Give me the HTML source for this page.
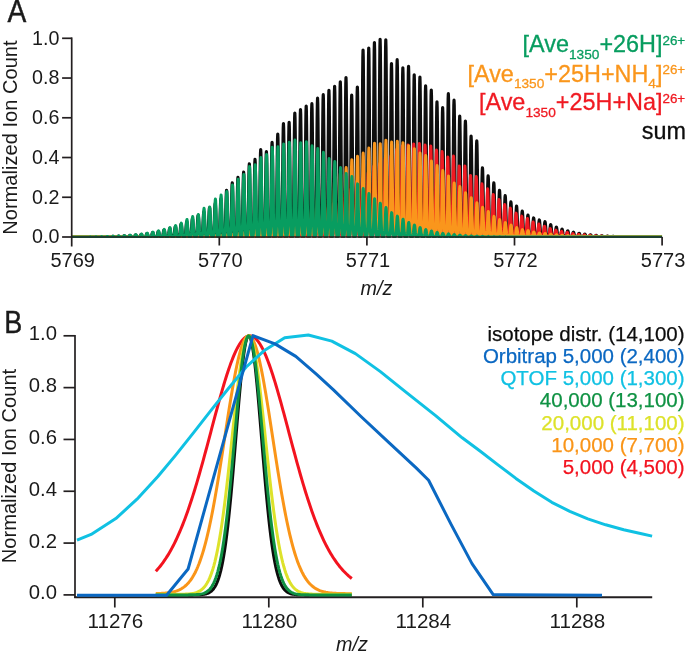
<!DOCTYPE html>
<html><head><meta charset="utf-8"><title>Figure</title>
<style>html,body{margin:0;padding:0;background:#fff;overflow:hidden}svg{display:block;filter:blur(0.3px)}svg text{font-family:"Liberation Sans",sans-serif}</style>
</head><body>
<svg width="685" height="652" viewBox="0 0 685 652">
<rect width="685" height="652" fill="#fff"/>
<defs><clipPath id="ca"><rect x="69.7" y="0" width="594.4" height="238.10"/></clipPath></defs>
<path clip-path="url(#ca)" d="M71.70 237.00 L88.12 237.00 L88.52 236.99 L88.82 236.98 L89.07 236.96 L89.32 236.93 L89.52 236.90 L89.72 236.87 L89.92 236.84 L90.12 236.82 L90.32 236.82 L90.52 236.82 L90.72 236.84 L90.92 236.87 L91.12 236.90 L91.32 236.93 L91.57 236.96 L91.82 236.98 L92.12 236.99 L92.52 237.00 L93.81 237.00 L94.21 236.99 L94.51 236.97 L94.76 236.94 L95.01 236.90 L95.21 236.86 L95.41 236.82 L95.61 236.78 L95.81 236.75 L96.01 236.74 L96.21 236.75 L96.41 236.78 L96.61 236.82 L96.81 236.86 L97.01 236.90 L97.26 236.94 L97.51 236.97 L97.81 236.99 L98.21 237.00 L99.49 237.00 L99.89 236.98 L100.19 236.96 L100.44 236.92 L100.69 236.86 L100.89 236.81 L101.09 236.75 L101.29 236.69 L101.49 236.66 L101.69 236.64 L101.89 236.66 L102.09 236.69 L102.29 236.75 L102.49 236.81 L102.69 236.86 L102.94 236.92 L103.19 236.96 L103.49 236.98 L103.89 237.00 L105.18 237.00 L105.58 236.98 L105.88 236.94 L106.13 236.89 L106.38 236.81 L106.58 236.74 L106.78 236.65 L106.98 236.58 L107.18 236.53 L107.38 236.51 L107.58 236.53 L107.78 236.58 L107.98 236.65 L108.18 236.74 L108.38 236.81 L108.63 236.89 L108.88 236.94 L109.18 236.98 L109.58 237.00 L110.87 236.99 L111.27 236.97 L111.57 236.92 L111.82 236.85 L112.07 236.74 L112.27 236.64 L112.47 236.53 L112.67 236.43 L112.87 236.36 L113.07 236.34 L113.27 236.36 L113.47 236.43 L113.67 236.53 L113.87 236.64 L114.07 236.74 L114.32 236.85 L114.57 236.92 L114.87 236.97 L115.27 236.99 L116.55 236.99 L116.95 236.96 L117.25 236.90 L117.50 236.80 L117.75 236.66 L117.95 236.51 L118.15 236.37 L118.35 236.23 L118.55 236.14 L118.75 236.10 L118.95 236.14 L119.15 236.23 L119.35 236.37 L119.55 236.51 L119.75 236.66 L120.00 236.80 L120.25 236.90 L120.55 236.96 L120.95 236.99 L122.24 236.99 L122.64 236.95 L122.94 236.86 L123.19 236.73 L123.44 236.54 L123.64 236.35 L123.84 236.15 L124.04 235.97 L124.24 235.85 L124.44 235.81 L124.64 235.85 L124.84 235.97 L125.04 236.15 L125.24 236.35 L125.44 236.54 L125.69 236.73 L125.94 236.86 L126.24 236.95 L126.64 236.99 L127.92 236.98 L128.32 236.93 L128.62 236.82 L128.87 236.65 L129.12 236.39 L129.32 236.14 L129.52 235.88 L129.72 235.64 L129.92 235.48 L130.12 235.42 L130.32 235.48 L130.52 235.64 L130.72 235.88 L130.92 236.14 L131.12 236.39 L131.37 236.65 L131.62 236.82 L131.92 236.93 L132.32 236.98 L133.61 236.98 L134.01 236.91 L134.31 236.76 L134.56 236.54 L134.81 236.20 L135.01 235.88 L135.21 235.53 L135.41 235.22 L135.61 235.01 L135.81 234.93 L136.01 235.01 L136.21 235.22 L136.41 235.53 L136.61 235.88 L136.81 236.20 L137.06 236.54 L137.31 236.76 L137.61 236.91 L138.01 236.98 L139.30 236.97 L139.70 236.88 L140.00 236.69 L140.25 236.40 L140.50 235.97 L140.70 235.54 L140.90 235.10 L141.10 234.70 L141.30 234.42 L141.50 234.32 L141.70 234.42 L141.90 234.70 L142.10 235.10 L142.30 235.54 L142.50 235.97 L142.75 236.40 L143.00 236.69 L143.30 236.88 L143.70 236.97 L144.98 236.97 L145.38 236.84 L145.68 236.60 L145.93 236.23 L146.18 235.67 L146.38 235.13 L146.58 234.55 L146.78 234.04 L146.98 233.68 L147.18 233.55 L147.38 233.68 L147.58 234.04 L147.78 234.55 L147.98 235.13 L148.18 235.67 L148.43 236.23 L148.68 236.60 L148.98 236.84 L149.38 236.97 L150.67 236.96 L151.07 236.80 L151.37 236.49 L151.62 236.01 L151.87 235.31 L152.07 234.62 L152.27 233.89 L152.47 233.23 L152.67 232.77 L152.87 232.61 L153.07 232.77 L153.27 233.23 L153.47 233.89 L153.67 234.62 L153.87 235.31 L154.12 236.01 L154.37 236.49 L154.67 236.80 L155.07 236.96 L156.35 236.95 L156.75 236.75 L157.05 236.36 L157.30 235.76 L157.55 234.87 L157.75 234.00 L157.95 233.07 L158.15 232.24 L158.35 231.67 L158.55 231.46 L158.75 231.67 L158.95 232.24 L159.15 233.07 L159.35 234.00 L159.55 234.87 L159.80 235.76 L160.05 236.36 L160.35 236.75 L160.75 236.95 L162.04 236.93 L162.44 236.69 L162.74 236.20 L162.99 235.45 L163.24 234.34 L163.44 233.25 L163.64 232.09 L163.84 231.06 L164.04 230.34 L164.24 230.08 L164.44 230.34 L164.64 231.06 L164.84 232.09 L165.04 233.25 L165.24 234.34 L165.49 235.45 L165.74 236.20 L166.04 236.69 L166.44 236.93 L167.73 236.92 L168.13 236.61 L168.43 236.00 L168.68 235.08 L168.93 233.71 L169.13 232.35 L169.33 230.93 L169.53 229.65 L169.73 228.75 L169.93 228.43 L170.13 228.75 L170.33 229.65 L170.53 230.93 L170.73 232.35 L170.93 233.71 L171.18 235.08 L171.43 236.00 L171.73 236.61 L172.13 236.92 L173.41 236.90 L173.81 236.53 L174.11 235.78 L174.36 234.64 L174.61 232.96 L174.81 231.30 L175.01 229.56 L175.21 227.99 L175.41 226.89 L175.61 226.50 L175.81 226.89 L176.01 227.99 L176.21 229.56 L176.41 231.30 L176.61 232.96 L176.86 234.64 L177.11 235.78 L177.41 236.53 L177.81 236.90 L179.10 236.88 L179.50 236.42 L179.80 235.52 L180.05 234.14 L180.30 232.10 L180.50 230.08 L180.70 227.96 L180.90 226.05 L181.10 224.72 L181.30 224.24 L181.50 224.72 L181.70 226.05 L181.90 227.96 L182.10 230.08 L182.30 232.10 L182.55 234.14 L182.80 235.52 L183.10 236.42 L183.50 236.88 L184.78 236.85 L185.18 236.31 L185.48 235.22 L185.73 233.56 L185.98 231.10 L186.18 228.68 L186.38 226.12 L186.58 223.83 L186.78 222.23 L186.98 221.65 L187.18 222.23 L187.38 223.83 L187.58 226.12 L187.78 228.68 L187.98 231.10 L188.23 233.56 L188.48 235.22 L188.78 236.31 L189.18 236.85 L190.47 236.82 L190.87 236.18 L191.17 234.87 L191.42 232.90 L191.67 229.97 L191.87 227.08 L192.07 224.04 L192.27 221.30 L192.47 219.40 L192.67 218.71 L192.87 219.40 L193.07 221.30 L193.27 224.04 L193.47 227.08 L193.67 229.97 L193.92 232.90 L194.17 234.87 L194.47 236.18 L194.87 236.82 L196.16 236.79 L196.56 236.03 L196.86 234.49 L197.11 232.16 L197.36 228.70 L197.56 225.29 L197.76 221.70 L197.96 218.47 L198.16 216.22 L198.36 215.41 L198.56 216.22 L198.76 218.47 L198.96 221.70 L199.16 225.29 L199.36 228.70 L199.61 232.16 L199.86 234.49 L200.16 236.03 L200.56 236.79 L201.84 236.75 L202.24 235.86 L202.54 234.06 L202.79 231.33 L203.04 227.30 L203.24 223.31 L203.44 219.10 L203.64 215.33 L203.84 212.70 L204.04 211.75 L204.24 212.70 L204.44 215.33 L204.64 219.10 L204.84 223.31 L205.04 227.30 L205.29 231.33 L205.54 234.06 L205.84 235.86 L206.24 236.75 L207.53 236.71 L207.93 235.68 L208.23 233.60 L208.48 230.44 L208.73 225.76 L208.93 221.14 L209.13 216.27 L209.33 211.90 L209.53 208.85 L209.73 207.75 L209.93 208.85 L210.13 211.90 L210.33 216.27 L210.53 221.14 L210.73 225.76 L210.98 230.44 L211.23 233.60 L211.53 235.68 L211.93 236.71 L213.21 236.67 L213.61 235.49 L213.91 233.10 L214.16 229.47 L214.41 224.10 L214.61 218.80 L214.81 213.21 L215.01 208.20 L215.21 204.69 L215.41 203.43 L215.61 204.69 L215.81 208.20 L216.01 213.21 L216.21 218.80 L216.41 224.10 L216.66 229.47 L216.91 233.10 L217.21 235.49 L217.61 236.67 L218.90 236.63 L219.30 235.28 L219.60 232.56 L219.85 228.44 L220.10 222.34 L220.30 216.31 L220.50 209.96 L220.70 204.26 L220.90 200.27 L221.10 198.84 L221.30 200.27 L221.50 204.26 L221.70 209.96 L221.90 216.31 L222.10 222.34 L222.35 228.44 L222.60 232.56 L222.90 235.28 L223.30 236.63 L224.59 236.54 L224.99 234.89 L225.29 231.57 L225.54 226.52 L225.79 219.06 L225.99 211.68 L226.19 203.90 L226.39 196.93 L226.59 192.05 L226.79 190.30 L226.99 192.05 L227.19 196.93 L227.39 203.90 L227.59 211.68 L227.79 219.06 L228.04 226.52 L228.29 231.57 L228.59 234.89 L228.99 236.54 L230.27 236.47 L230.67 234.56 L230.97 230.71 L231.22 224.86 L231.47 216.21 L231.67 207.67 L231.87 198.66 L232.07 190.58 L232.27 184.93 L232.47 182.90 L232.67 184.93 L232.87 190.58 L233.07 198.66 L233.27 207.67 L233.47 216.21 L233.72 224.86 L233.97 230.71 L234.27 234.56 L234.67 236.47 L235.96 236.42 L236.36 234.31 L236.66 230.07 L236.91 223.63 L237.16 214.10 L237.36 204.69 L237.56 194.76 L237.76 185.86 L237.96 179.64 L238.16 177.40 L238.36 179.64 L238.56 185.86 L238.76 194.76 L238.96 204.69 L239.16 214.10 L239.41 223.63 L239.66 230.07 L239.96 234.31 L240.36 236.42 L241.64 236.37 L242.04 234.07 L242.34 229.46 L242.59 222.44 L242.84 212.06 L243.04 201.81 L243.24 191.01 L243.44 181.31 L243.64 174.54 L243.84 172.10 L244.04 174.54 L244.24 181.31 L244.44 191.01 L244.64 201.81 L244.84 212.06 L245.09 222.44 L245.34 229.46 L245.64 234.07 L246.04 236.37 L247.33 236.29 L247.73 233.70 L248.03 228.49 L248.28 220.58 L248.53 208.87 L248.73 197.31 L248.93 185.12 L249.13 174.19 L249.33 166.55 L249.53 163.80 L249.73 166.55 L249.93 174.19 L250.13 185.12 L250.33 197.31 L250.53 208.87 L250.78 220.58 L251.03 228.49 L251.33 233.70 L251.73 236.29 L253.02 236.24 L253.42 233.50 L253.72 227.98 L253.97 219.59 L254.22 207.18 L254.42 194.93 L254.62 182.01 L254.82 170.41 L255.02 162.31 L255.22 159.40 L255.42 162.31 L255.62 170.41 L255.82 182.01 L256.02 194.93 L256.22 207.18 L256.47 219.59 L256.72 227.98 L257.02 233.50 L257.42 236.24 L258.70 236.15 L259.10 233.06 L259.40 226.85 L259.65 217.41 L259.90 203.46 L260.10 189.67 L260.30 175.13 L260.50 162.09 L260.70 152.98 L260.90 149.70 L261.10 152.98 L261.30 162.09 L261.50 175.13 L261.70 189.67 L261.90 203.46 L262.15 217.41 L262.40 226.85 L262.70 233.06 L263.10 236.15 L264.39 236.17 L264.79 233.14 L265.09 227.06 L265.34 217.82 L265.59 204.15 L265.79 190.64 L265.99 176.41 L266.19 163.63 L266.39 154.71 L266.59 151.50 L266.79 154.71 L266.99 163.63 L267.19 176.41 L267.39 190.64 L267.59 204.15 L267.84 217.82 L268.09 227.06 L268.39 233.14 L268.79 236.17 L270.07 236.08 L270.47 232.73 L270.77 226.00 L271.02 215.78 L271.27 200.65 L271.47 185.71 L271.67 169.96 L271.87 155.82 L272.07 145.95 L272.27 142.40 L272.47 145.95 L272.67 155.82 L272.87 169.96 L273.07 185.71 L273.27 200.65 L273.52 215.78 L273.77 226.00 L274.07 232.73 L274.47 236.08 L275.76 236.00 L276.16 232.36 L276.46 225.05 L276.71 213.94 L276.96 197.50 L277.16 181.26 L277.36 164.15 L277.56 148.79 L277.76 138.06 L277.96 134.20 L278.16 138.06 L278.36 148.79 L278.56 164.15 L278.76 181.26 L278.96 197.50 L279.21 213.94 L279.46 225.05 L279.76 232.36 L280.16 236.00 L281.45 235.89 L281.85 231.88 L282.15 223.81 L282.40 211.54 L282.65 193.39 L282.85 175.46 L283.05 156.56 L283.25 139.61 L283.45 127.76 L283.65 123.50 L283.85 127.76 L284.05 139.61 L284.25 156.56 L284.45 175.46 L284.65 193.39 L284.90 211.54 L285.15 223.81 L285.45 231.88 L285.85 235.89 L287.13 235.88 L287.53 231.83 L287.83 223.67 L288.08 211.27 L288.33 192.93 L288.53 174.81 L288.73 155.71 L288.93 138.58 L289.13 126.61 L289.33 122.30 L289.53 126.61 L289.73 138.58 L289.93 155.71 L290.13 174.81 L290.33 192.93 L290.58 211.27 L290.83 223.67 L291.13 231.83 L291.53 235.88 L292.82 235.79 L293.22 231.41 L293.52 222.60 L293.77 209.20 L294.02 189.39 L294.22 169.82 L294.42 149.19 L294.62 130.68 L294.82 117.75 L295.02 113.10 L295.22 117.75 L295.42 130.68 L295.62 149.19 L295.82 169.82 L296.02 189.39 L296.27 209.20 L296.52 222.60 L296.82 231.41 L297.22 235.79 L298.50 235.76 L298.90 231.26 L299.20 222.19 L299.45 208.42 L299.70 188.05 L299.90 167.93 L300.10 146.71 L300.30 127.68 L300.50 114.38 L300.70 109.60 L300.90 114.38 L301.10 127.68 L301.30 146.71 L301.50 167.93 L301.70 188.05 L301.95 208.42 L302.20 222.19 L302.50 231.26 L302.90 235.76 L304.19 235.72 L304.59 231.10 L304.89 221.79 L305.14 207.63 L305.39 186.70 L305.59 166.03 L305.79 144.23 L305.99 124.68 L306.19 111.01 L306.39 106.10 L306.59 111.01 L306.79 124.68 L306.99 144.23 L307.19 166.03 L307.39 186.70 L307.64 207.63 L307.89 221.79 L308.19 231.10 L308.59 235.72 L309.88 235.70 L310.28 230.99 L310.58 221.51 L310.83 207.09 L311.08 185.78 L311.28 164.73 L311.48 142.53 L311.68 122.62 L311.88 108.70 L312.08 103.70 L312.28 108.70 L312.48 122.62 L312.68 142.53 L312.88 164.73 L313.08 185.78 L313.33 207.09 L313.58 221.51 L313.88 230.99 L314.28 235.70 L315.56 235.65 L315.96 230.74 L316.26 220.87 L316.51 205.86 L316.76 183.67 L316.96 161.75 L317.16 138.63 L317.36 117.90 L317.56 103.41 L317.76 98.20 L317.96 103.41 L318.16 117.90 L318.36 138.63 L318.56 161.75 L318.76 183.67 L319.01 205.86 L319.26 220.87 L319.56 230.74 L319.96 235.65 L321.25 235.61 L321.65 230.58 L321.95 220.46 L322.20 205.08 L322.45 182.32 L322.65 159.85 L322.85 136.15 L323.05 114.89 L323.25 100.04 L323.45 94.70 L323.65 100.04 L323.85 114.89 L324.05 136.15 L324.25 159.85 L324.45 182.32 L324.70 205.08 L324.95 220.46 L325.25 230.58 L325.65 235.61 L326.93 235.57 L327.33 230.39 L327.63 219.95 L327.88 204.09 L328.13 180.63 L328.33 157.46 L328.53 133.04 L328.73 111.12 L328.93 95.81 L329.13 90.30 L329.33 95.81 L329.53 111.12 L329.73 133.04 L329.93 157.46 L330.13 180.63 L330.38 204.09 L330.63 219.95 L330.93 230.39 L331.33 235.57 L332.62 235.53 L333.02 230.21 L333.32 219.48 L333.57 203.19 L333.82 179.10 L334.02 155.29 L334.22 130.20 L334.42 107.69 L334.62 91.96 L334.82 86.30 L335.02 91.96 L335.22 107.69 L335.42 130.20 L335.62 155.29 L335.82 179.10 L336.07 203.19 L336.32 219.48 L336.62 230.21 L337.02 235.53 L338.31 235.49 L338.71 230.00 L339.01 218.96 L339.26 202.18 L339.51 177.37 L339.71 152.85 L339.91 127.01 L340.11 103.82 L340.31 87.63 L340.51 81.80 L340.71 87.63 L340.91 103.82 L341.11 127.01 L341.31 152.85 L341.51 177.37 L341.76 202.18 L342.01 218.96 L342.31 230.00 L342.71 235.49 L343.99 235.44 L344.39 229.81 L344.69 218.47 L344.94 201.24 L345.19 175.75 L345.39 150.58 L345.59 124.04 L345.79 100.22 L345.99 83.58 L346.19 77.60 L346.39 83.58 L346.59 100.22 L346.79 124.04 L346.99 150.58 L347.19 175.75 L347.44 201.24 L347.69 218.47 L347.99 229.81 L348.39 235.44 L349.68 235.62 L350.08 230.61 L350.38 220.52 L350.63 205.19 L350.88 182.52 L351.08 160.12 L351.28 136.51 L351.48 115.32 L351.68 100.52 L351.88 95.20 L352.08 100.52 L352.28 115.32 L352.48 136.51 L352.68 160.12 L352.88 182.52 L353.13 205.19 L353.38 220.52 L353.68 230.61 L354.08 235.62 L355.36 235.54 L355.76 230.24 L356.06 219.57 L356.31 203.35 L356.56 179.37 L356.76 155.67 L356.96 130.70 L357.16 108.29 L357.36 92.63 L357.56 87.00 L357.76 92.63 L357.96 108.29 L358.16 130.70 L358.36 155.67 L358.56 179.37 L358.81 203.35 L359.06 219.57 L359.36 230.24 L359.76 235.54 L361.05 235.18 L361.45 228.57 L361.75 215.28 L362.00 195.07 L362.25 165.19 L362.45 135.67 L362.65 104.55 L362.85 76.62 L363.05 57.12 L363.25 50.10 L363.45 57.12 L363.65 76.62 L363.85 104.55 L364.05 135.67 L364.25 165.19 L364.50 195.07 L364.75 215.28 L365.05 228.57 L365.45 235.18 L366.74 235.16 L367.14 228.48 L367.44 215.04 L367.69 194.62 L367.94 164.42 L368.14 134.58 L368.34 103.13 L368.54 74.91 L368.74 55.19 L368.94 48.10 L369.14 55.19 L369.34 74.91 L369.54 103.13 L369.74 134.58 L369.94 164.42 L370.19 194.62 L370.44 215.04 L370.74 228.48 L371.14 235.16 L372.42 235.10 L372.82 228.23 L373.12 214.40 L373.37 193.39 L373.62 162.31 L373.82 131.60 L374.02 99.23 L374.22 70.19 L374.42 49.90 L374.62 42.60 L374.82 49.90 L375.02 70.19 L375.22 99.23 L375.42 131.60 L375.62 162.31 L375.87 193.39 L376.12 214.40 L376.42 228.23 L376.82 235.10 L378.11 235.07 L378.51 228.09 L378.81 214.03 L379.06 192.67 L379.31 161.08 L379.51 129.87 L379.71 96.96 L379.91 67.44 L380.11 46.82 L380.31 39.40 L380.51 46.82 L380.71 67.44 L380.91 96.96 L381.11 129.87 L381.31 161.08 L381.56 192.67 L381.81 214.03 L382.11 228.09 L382.51 235.07 L383.79 235.08 L384.19 228.11 L384.49 214.09 L384.74 192.78 L384.99 161.27 L385.19 130.14 L385.39 97.32 L385.59 67.87 L385.79 47.30 L385.99 39.90 L386.19 47.30 L386.39 67.87 L386.59 97.32 L386.79 130.14 L386.99 161.27 L387.24 192.78 L387.49 214.09 L387.79 228.11 L388.19 235.08 L389.48 235.31 L389.88 229.18 L390.18 216.83 L390.43 198.08 L390.68 170.34 L390.88 142.93 L391.08 114.04 L391.28 88.12 L391.48 70.01 L391.68 63.50 L391.88 70.01 L392.08 88.12 L392.28 114.04 L392.48 142.93 L392.68 170.34 L392.93 198.08 L393.18 216.83 L393.48 229.18 L393.88 235.31 L395.17 235.27 L395.57 229.01 L395.87 216.39 L396.12 197.22 L396.37 168.88 L396.57 140.87 L396.77 111.35 L396.97 84.86 L397.17 66.36 L397.37 59.70 L397.57 66.36 L397.77 84.86 L397.97 111.35 L398.17 140.87 L398.37 168.88 L398.62 197.22 L398.87 216.39 L399.17 229.01 L399.57 235.27 L400.85 235.35 L401.25 229.38 L401.55 217.35 L401.80 199.06 L402.05 172.03 L402.25 145.32 L402.45 117.16 L402.65 91.90 L402.85 74.25 L403.05 67.90 L403.25 74.25 L403.45 91.90 L403.65 117.16 L403.85 145.32 L404.05 172.03 L404.30 199.06 L404.55 217.35 L404.85 229.38 L405.25 235.35 L406.54 235.34 L406.94 229.31 L407.24 217.17 L407.49 198.73 L407.74 171.45 L407.94 144.51 L408.14 116.10 L408.34 90.61 L408.54 72.80 L408.74 66.40 L408.94 72.80 L409.14 90.61 L409.34 116.10 L409.54 144.51 L409.74 171.45 L409.99 198.73 L410.24 217.17 L410.54 229.31 L410.94 235.34 L412.22 235.42 L412.62 229.69 L412.92 218.16 L413.17 200.63 L413.42 174.72 L413.62 149.11 L413.82 122.12 L414.02 97.90 L414.22 80.98 L414.42 74.90 L414.62 80.98 L414.82 97.90 L415.02 122.12 L415.22 149.11 L415.42 174.72 L415.67 200.63 L415.92 218.16 L416.22 229.69 L416.62 235.42 L417.91 235.44 L418.31 229.79 L418.61 218.41 L418.86 201.13 L419.11 175.56 L419.31 150.31 L419.51 123.68 L419.71 99.79 L419.91 83.10 L420.11 77.10 L420.31 83.10 L420.51 99.79 L420.71 123.68 L420.91 150.31 L421.11 175.56 L421.36 201.13 L421.61 218.41 L421.91 229.79 L422.31 235.44 L423.60 235.52 L424.00 230.18 L424.30 219.43 L424.55 203.08 L424.80 178.90 L425.00 155.02 L425.20 129.85 L425.40 107.26 L425.60 91.48 L425.80 85.80 L426.00 91.48 L426.20 107.26 L426.40 129.85 L426.60 155.02 L426.80 178.90 L427.05 203.08 L427.30 219.43 L427.60 230.18 L428.00 235.52 L429.28 235.57 L429.68 230.37 L429.98 219.91 L430.23 204.02 L430.48 180.52 L430.68 157.30 L430.88 132.82 L431.08 110.86 L431.28 95.52 L431.48 90.00 L431.68 95.52 L431.88 110.86 L432.08 132.82 L432.28 157.30 L432.48 180.52 L432.73 204.02 L432.98 219.91 L433.28 230.37 L433.68 235.57 L434.97 235.68 L435.37 230.91 L435.67 221.30 L435.92 206.69 L436.17 185.09 L436.37 163.75 L436.57 141.26 L436.77 121.07 L436.97 106.97 L437.17 101.90 L437.37 106.97 L437.57 121.07 L437.77 141.26 L437.97 163.75 L438.17 185.09 L438.42 206.69 L438.67 221.30 L438.97 230.91 L439.37 235.68 L440.65 235.74 L441.05 231.17 L441.35 221.96 L441.60 207.97 L441.85 187.28 L442.05 166.84 L442.25 145.30 L442.45 125.96 L442.65 112.46 L442.85 107.60 L443.05 112.46 L443.25 125.96 L443.45 145.30 L443.65 166.84 L443.85 187.28 L444.10 207.97 L444.35 221.96 L444.65 231.17 L445.05 235.74 L446.34 235.60 L446.74 230.54 L447.04 220.34 L447.29 204.85 L447.54 181.94 L447.74 159.31 L447.94 135.45 L448.14 114.04 L448.34 99.08 L448.54 93.70 L448.74 99.08 L448.94 114.04 L449.14 135.45 L449.34 159.31 L449.54 181.94 L449.79 204.85 L450.04 220.34 L450.34 230.54 L450.74 235.60 L452.03 235.66 L452.43 230.83 L452.73 221.10 L452.98 206.31 L453.23 184.44 L453.43 162.83 L453.63 140.05 L453.83 119.61 L454.03 105.34 L454.23 100.20 L454.43 105.34 L454.63 119.61 L454.83 140.05 L455.03 162.83 L455.23 184.44 L455.48 206.31 L455.73 221.10 L456.03 230.83 L456.43 235.66 L457.71 235.82 L458.11 231.55 L458.41 222.95 L458.66 209.88 L458.91 190.55 L459.11 171.45 L459.31 151.32 L459.51 133.26 L459.71 120.64 L459.91 116.10 L460.11 120.64 L460.31 133.26 L460.51 151.32 L460.71 171.45 L460.91 190.55 L461.16 209.88 L461.41 222.95 L461.71 231.55 L462.11 235.82 L463.40 235.87 L463.80 231.77 L464.10 223.52 L464.35 210.98 L464.60 192.43 L464.80 174.11 L465.00 154.79 L465.20 137.46 L465.40 125.35 L465.60 121.00 L465.80 125.35 L466.00 137.46 L466.20 154.79 L466.40 174.11 L466.60 192.43 L466.85 210.98 L467.10 223.52 L467.40 231.77 L467.80 235.87 L469.08 236.02 L469.48 232.46 L469.78 225.28 L470.03 214.39 L470.28 198.27 L470.48 182.35 L470.68 165.56 L470.88 150.50 L471.08 139.98 L471.28 136.20 L471.48 139.98 L471.68 150.50 L471.88 165.56 L472.08 182.35 L472.28 198.27 L472.53 214.39 L472.78 225.28 L473.08 232.46 L473.48 236.02 L474.77 236.06 L475.17 232.67 L475.47 225.83 L475.72 215.44 L475.97 200.08 L476.17 184.90 L476.37 168.90 L476.57 154.54 L476.77 144.51 L476.97 140.90 L477.17 144.51 L477.37 154.54 L477.57 168.90 L477.77 184.90 L477.97 200.08 L478.22 215.44 L478.47 225.83 L478.77 232.67 L479.17 236.06 L480.46 236.33 L480.86 233.88 L481.16 228.97 L481.41 221.50 L481.66 210.45 L481.86 199.54 L482.06 188.03 L482.26 177.71 L482.46 170.49 L482.66 167.90 L482.86 170.49 L483.06 177.71 L483.26 188.03 L483.46 199.54 L483.66 210.45 L483.91 221.50 L484.16 228.97 L484.46 233.88 L484.86 236.33 L486.14 236.40 L486.54 234.25 L486.84 229.90 L487.09 223.29 L487.34 213.52 L487.54 203.87 L487.74 193.70 L487.94 184.57 L488.14 178.19 L488.34 175.90 L488.54 178.19 L488.74 184.57 L488.94 193.70 L489.14 203.87 L489.34 213.52 L489.59 223.29 L489.84 229.90 L490.14 234.25 L490.54 236.40 L491.83 236.47 L492.23 234.56 L492.53 230.70 L492.78 224.84 L493.03 216.17 L493.23 207.61 L493.43 198.59 L493.63 190.49 L493.83 184.83 L494.03 182.80 L494.23 184.83 L494.43 190.49 L494.63 198.59 L494.83 207.61 L495.03 216.17 L495.28 224.84 L495.53 230.70 L495.83 234.56 L496.23 236.47 L497.51 236.54 L497.91 234.89 L498.21 231.57 L498.46 226.52 L498.71 219.06 L498.91 211.68 L499.11 203.90 L499.31 196.93 L499.51 192.05 L499.71 190.30 L499.91 192.05 L500.11 196.93 L500.31 203.90 L500.51 211.68 L500.71 219.06 L500.96 226.52 L501.21 231.57 L501.51 234.89 L501.91 236.54 L503.20 236.60 L503.60 235.14 L503.90 232.20 L504.15 227.73 L504.40 221.13 L504.60 214.61 L504.80 207.73 L505.00 201.56 L505.20 197.25 L505.40 195.70 L505.60 197.25 L505.80 201.56 L506.00 207.73 L506.20 214.61 L506.40 221.13 L506.65 227.73 L506.90 232.20 L507.20 235.14 L507.60 236.60 L508.89 236.66 L509.29 235.42 L509.59 232.92 L509.84 229.13 L510.09 223.51 L510.29 217.97 L510.49 212.13 L510.69 206.88 L510.89 203.22 L511.09 201.90 L511.29 203.22 L511.49 206.88 L511.69 212.13 L511.89 217.97 L512.09 223.51 L512.34 229.13 L512.59 232.92 L512.89 235.42 L513.29 236.66 L514.57 236.70 L514.97 235.61 L515.27 233.41 L515.52 230.07 L515.77 225.13 L515.97 220.25 L516.17 215.10 L516.37 210.48 L516.57 207.26 L516.77 206.10 L516.97 207.26 L517.17 210.48 L517.37 215.10 L517.57 220.25 L517.77 225.13 L518.02 230.07 L518.27 233.41 L518.57 235.61 L518.97 236.70 L520.26 236.75 L520.66 235.83 L520.96 233.99 L521.21 231.19 L521.46 227.05 L521.66 222.96 L521.86 218.65 L522.06 214.78 L522.26 212.07 L522.46 211.10 L522.66 212.07 L522.86 214.78 L523.06 218.65 L523.26 222.96 L523.46 227.05 L523.71 231.19 L523.96 233.99 L524.26 235.83 L524.66 236.75 L525.94 236.79 L526.34 236.01 L526.64 234.45 L526.89 232.09 L527.14 228.59 L527.34 225.13 L527.54 221.48 L527.74 218.21 L527.94 215.92 L528.14 215.10 L528.34 215.92 L528.54 218.21 L528.74 221.48 L528.94 225.13 L529.14 228.59 L529.39 232.09 L529.64 234.45 L529.94 236.01 L530.34 236.79 L531.63 236.81 L532.03 236.14 L532.33 234.79 L532.58 232.74 L532.83 229.70 L533.03 226.70 L533.23 223.54 L533.43 220.70 L533.63 218.71 L533.83 218.00 L534.03 218.71 L534.23 220.70 L534.43 223.54 L534.63 226.70 L534.83 229.70 L535.08 232.74 L535.33 234.79 L535.63 236.14 L536.03 236.81 L537.32 236.83 L537.72 236.23 L538.02 235.02 L538.27 233.19 L538.52 230.47 L538.72 227.78 L538.92 224.95 L539.12 222.41 L539.32 220.64 L539.52 220.00 L539.72 220.64 L539.92 222.41 L540.12 224.95 L540.32 227.78 L540.52 230.47 L540.77 233.19 L541.02 235.02 L541.32 236.23 L541.72 236.83 L543.00 236.85 L543.40 236.31 L543.70 235.22 L543.95 233.56 L544.20 231.10 L544.40 228.68 L544.60 226.13 L544.80 223.83 L545.00 222.23 L545.20 221.66 L545.40 222.23 L545.60 223.83 L545.80 226.13 L546.00 228.68 L546.20 231.10 L546.45 233.56 L546.70 235.22 L547.00 236.31 L547.40 236.85 L548.69 236.88 L549.09 236.44 L549.39 235.56 L549.64 234.22 L549.89 232.24 L550.09 230.29 L550.29 228.23 L550.49 226.38 L550.69 225.09 L550.89 224.62 L551.09 225.09 L551.29 226.38 L551.49 228.23 L551.69 230.29 L551.89 232.24 L552.14 234.22 L552.39 235.56 L552.69 236.44 L553.09 236.88 L554.37 236.90 L554.77 236.55 L555.07 235.85 L555.32 234.78 L555.57 233.20 L555.77 231.63 L555.97 229.98 L556.17 228.50 L556.37 227.47 L556.57 227.10 L556.77 227.47 L556.97 228.50 L557.17 229.98 L557.37 231.63 L557.57 233.20 L557.82 234.78 L558.07 235.85 L558.37 236.55 L558.77 236.90 L560.06 236.92 L560.46 236.65 L560.76 236.09 L561.01 235.24 L561.26 233.98 L561.46 232.74 L561.66 231.43 L561.86 230.26 L562.06 229.44 L562.26 229.15 L562.46 229.44 L562.66 230.26 L562.86 231.43 L563.06 232.74 L563.26 233.98 L563.51 235.24 L563.76 236.09 L564.06 236.65 L564.46 236.92 L565.75 236.94 L566.15 236.72 L566.45 236.28 L566.70 235.61 L566.95 234.63 L567.15 233.65 L567.35 232.62 L567.55 231.70 L567.75 231.06 L567.95 230.82 L568.15 231.06 L568.35 231.70 L568.55 232.62 L568.75 233.65 L568.95 234.63 L569.20 235.61 L569.45 236.28 L569.75 236.72 L570.15 236.94 L571.43 236.95 L571.83 236.78 L572.13 236.44 L572.38 235.92 L572.63 235.15 L572.83 234.39 L573.03 233.59 L573.23 232.87 L573.43 232.37 L573.63 232.19 L573.83 232.37 L574.03 232.87 L574.23 233.59 L574.43 234.39 L574.63 235.15 L574.88 235.92 L575.13 236.44 L575.43 236.78 L575.83 236.95 L577.12 236.96 L577.52 236.83 L577.82 236.57 L578.07 236.16 L578.32 235.57 L578.52 234.98 L578.72 234.36 L578.92 233.81 L579.12 233.42 L579.32 233.28 L579.52 233.42 L579.72 233.81 L579.92 234.36 L580.12 234.98 L580.32 235.57 L580.57 236.16 L580.82 236.57 L581.12 236.83 L581.52 236.96 L582.80 236.97 L583.20 236.87 L583.50 236.67 L583.75 236.36 L584.00 235.90 L584.20 235.45 L584.40 234.98 L584.60 234.55 L584.80 234.25 L585.00 234.15 L585.20 234.25 L585.40 234.55 L585.60 234.98 L585.80 235.45 L586.00 235.90 L586.25 236.36 L586.50 236.67 L586.80 236.87 L587.20 236.97 L588.49 236.98 L588.89 236.90 L589.19 236.75 L589.44 236.51 L589.69 236.17 L589.89 235.82 L590.09 235.46 L590.29 235.14 L590.49 234.91 L590.69 234.83 L590.89 234.91 L591.09 235.14 L591.29 235.46 L591.49 235.82 L591.69 236.17 L591.94 236.51 L592.19 236.75 L592.49 236.90 L592.89 236.98 L594.18 236.98 L594.58 236.93 L594.88 236.81 L595.13 236.63 L595.38 236.37 L595.58 236.11 L595.78 235.84 L595.98 235.60 L596.18 235.43 L596.38 235.37 L596.58 235.43 L596.78 235.60 L596.98 235.84 L597.18 236.11 L597.38 236.37 L597.63 236.63 L597.88 236.81 L598.18 236.93 L598.58 236.98 L599.86 236.99 L600.26 236.94 L600.56 236.86 L600.81 236.73 L601.06 236.53 L601.26 236.34 L601.46 236.14 L601.66 235.95 L601.86 235.83 L602.06 235.78 L602.26 235.83 L602.46 235.95 L602.66 236.14 L602.86 236.34 L603.06 236.53 L603.31 236.73 L603.56 236.86 L603.86 236.94 L604.26 236.99 L605.55 236.99 L605.95 236.96 L606.25 236.89 L606.50 236.80 L606.75 236.65 L606.95 236.51 L607.15 236.36 L607.35 236.22 L607.55 236.13 L607.75 236.10 L607.95 236.13 L608.15 236.22 L608.35 236.36 L608.55 236.51 L608.75 236.65 L609.00 236.80 L609.25 236.89 L609.55 236.96 L609.95 236.99 L611.23 236.99 L611.63 236.97 L611.93 236.92 L612.18 236.85 L612.43 236.75 L612.63 236.64 L612.83 236.53 L613.03 236.43 L613.23 236.36 L613.43 236.34 L613.63 236.36 L613.83 236.43 L614.03 236.53 L614.23 236.64 L614.43 236.75 L614.68 236.85 L614.93 236.92 L615.23 236.97 L615.63 236.99 L616.92 237.00 L617.32 236.98 L617.62 236.94 L617.87 236.89 L618.12 236.81 L618.32 236.74 L618.52 236.66 L618.72 236.59 L618.92 236.54 L619.12 236.52 L619.32 236.54 L619.52 236.59 L619.72 236.66 L619.92 236.74 L620.12 236.81 L620.37 236.89 L620.62 236.94 L620.92 236.98 L621.32 237.00 L622.61 237.00 L623.01 236.98 L623.31 236.96 L623.56 236.92 L623.81 236.87 L624.01 236.81 L624.21 236.75 L624.41 236.70 L624.61 236.66 L624.81 236.65 L625.01 236.66 L625.21 236.70 L625.41 236.75 L625.61 236.81 L625.81 236.87 L626.06 236.92 L626.31 236.96 L626.61 236.98 L627.01 237.00 L628.29 237.00 L628.69 236.99 L628.99 236.97 L629.24 236.94 L629.49 236.90 L629.69 236.86 L629.89 236.82 L630.09 236.79 L630.29 236.76 L630.49 236.75 L630.69 236.76 L630.89 236.79 L631.09 236.82 L631.29 236.86 L631.49 236.90 L631.74 236.94 L631.99 236.97 L632.29 236.99 L632.69 237.00 L633.98 237.00 L634.38 236.99 L634.68 236.98 L634.93 236.96 L635.18 236.93 L635.38 236.90 L635.58 236.87 L635.78 236.85 L635.98 236.83 L636.18 236.82 L636.38 236.83 L636.58 236.85 L636.78 236.87 L636.98 236.90 L637.18 236.93 L637.43 236.96 L637.68 236.98 L637.98 236.99 L638.38 237.00 L662.10 237.00" transform="translate(-0.20 0.0)" fill="none" stroke="#0d0d0d" stroke-width="3.2" stroke-linejoin="round" stroke-linecap="butt"/>
<path clip-path="url(#ca)" d="M71.70 237.00 L207.53 237.00 L207.93 236.99 L208.23 236.98 L208.48 236.96 L208.73 236.92 L208.93 236.89 L209.13 236.86 L209.33 236.83 L209.53 236.81 L209.73 236.80 L209.93 236.81 L210.13 236.83 L210.33 236.86 L210.53 236.89 L210.73 236.92 L210.98 236.96 L211.23 236.98 L211.53 236.99 L211.93 237.00 L213.21 237.00 L213.61 236.99 L213.91 236.97 L214.16 236.94 L214.41 236.90 L214.61 236.85 L214.81 236.81 L215.01 236.77 L215.21 236.74 L215.41 236.73 L215.61 236.74 L215.81 236.77 L216.01 236.81 L216.21 236.85 L216.41 236.90 L216.66 236.94 L216.91 236.97 L217.21 236.99 L217.61 237.00 L218.90 237.00 L219.30 236.98 L219.60 236.96 L219.85 236.92 L220.10 236.86 L220.30 236.80 L220.50 236.73 L220.70 236.68 L220.90 236.64 L221.10 236.62 L221.30 236.64 L221.50 236.68 L221.70 236.73 L221.90 236.80 L222.10 236.86 L222.35 236.92 L222.60 236.96 L222.90 236.98 L223.30 237.00 L224.59 236.99 L224.99 236.98 L225.29 236.94 L225.54 236.88 L225.79 236.80 L225.99 236.71 L226.19 236.63 L226.39 236.55 L226.59 236.49 L226.79 236.47 L226.99 236.49 L227.19 236.55 L227.39 236.63 L227.59 236.71 L227.79 236.80 L228.04 236.88 L228.29 236.94 L228.59 236.98 L228.99 236.99 L230.27 236.99 L230.67 236.97 L230.97 236.92 L231.22 236.85 L231.47 236.74 L231.67 236.63 L231.87 236.51 L232.07 236.41 L232.27 236.34 L232.47 236.31 L232.67 236.34 L232.87 236.41 L233.07 236.51 L233.27 236.63 L233.47 236.74 L233.72 236.85 L233.97 236.92 L234.27 236.97 L234.67 236.99 L235.96 236.99 L236.36 236.96 L236.66 236.89 L236.91 236.79 L237.16 236.64 L237.36 236.49 L237.56 236.33 L237.76 236.19 L237.96 236.09 L238.16 236.06 L238.36 236.09 L238.56 236.19 L238.76 236.33 L238.96 236.49 L239.16 236.64 L239.41 236.79 L239.66 236.89 L239.96 236.96 L240.36 236.99 L241.64 236.99 L242.04 236.94 L242.34 236.85 L242.59 236.72 L242.84 236.52 L243.04 236.32 L243.24 236.11 L243.44 235.92 L243.64 235.79 L243.84 235.74 L244.04 235.79 L244.24 235.92 L244.44 236.11 L244.64 236.32 L244.84 236.52 L245.09 236.72 L245.34 236.85 L245.64 236.94 L246.04 236.99 L247.33 236.98 L247.73 236.93 L248.03 236.81 L248.28 236.64 L248.53 236.38 L248.73 236.12 L248.93 235.85 L249.13 235.60 L249.33 235.44 L249.53 235.37 L249.73 235.44 L249.93 235.60 L250.13 235.85 L250.33 236.12 L250.53 236.38 L250.78 236.64 L251.03 236.81 L251.33 236.93 L251.73 236.98 L253.02 236.98 L253.42 236.90 L253.72 236.75 L253.97 236.52 L254.22 236.18 L254.42 235.84 L254.62 235.48 L254.82 235.16 L255.02 234.94 L255.22 234.86 L255.42 234.94 L255.62 235.16 L255.82 235.48 L256.02 235.84 L256.22 236.18 L256.47 236.52 L256.72 236.75 L257.02 236.90 L257.42 236.98 L258.70 236.97 L259.10 236.88 L259.40 236.69 L259.65 236.40 L259.90 235.97 L260.10 235.54 L260.30 235.10 L260.50 234.70 L260.70 234.41 L260.90 234.31 L261.10 234.41 L261.30 234.70 L261.50 235.10 L261.70 235.54 L261.90 235.97 L262.15 236.40 L262.40 236.69 L262.70 236.88 L263.10 236.97 L264.39 236.97 L264.79 236.84 L265.09 236.60 L265.34 236.23 L265.59 235.68 L265.79 235.14 L265.99 234.56 L266.19 234.05 L266.39 233.69 L266.59 233.56 L266.79 233.69 L266.99 234.05 L267.19 234.56 L267.39 235.14 L267.59 235.68 L267.84 236.23 L268.09 236.60 L268.39 236.84 L268.79 236.97 L270.07 236.96 L270.47 236.80 L270.77 236.49 L271.02 236.01 L271.27 235.31 L271.47 234.61 L271.67 233.88 L271.87 233.22 L272.07 232.76 L272.27 232.60 L272.47 232.76 L272.67 233.22 L272.87 233.88 L273.07 234.61 L273.27 235.31 L273.52 236.01 L273.77 236.49 L274.07 236.80 L274.47 236.96 L275.76 236.94 L276.16 236.74 L276.46 236.34 L276.71 235.72 L276.96 234.81 L277.16 233.91 L277.36 232.97 L277.56 232.11 L277.76 231.52 L277.96 231.31 L278.16 231.52 L278.36 232.11 L278.56 232.97 L278.76 233.91 L278.96 234.81 L279.21 235.72 L279.46 236.34 L279.76 236.74 L280.16 236.94 L281.45 236.93 L281.85 236.68 L282.15 236.19 L282.40 235.43 L282.65 234.31 L282.85 233.21 L283.05 232.05 L283.25 231.00 L283.45 230.27 L283.65 230.01 L283.85 230.27 L284.05 231.00 L284.25 232.05 L284.45 233.21 L284.65 234.31 L284.90 235.43 L285.15 236.19 L285.45 236.68 L285.85 236.93 L287.13 236.92 L287.53 236.61 L287.83 236.00 L288.08 235.08 L288.33 233.71 L288.53 232.35 L288.73 230.93 L288.93 229.65 L289.13 228.75 L289.33 228.43 L289.53 228.75 L289.73 229.65 L289.93 230.93 L290.13 232.35 L290.33 233.71 L290.58 235.08 L290.83 236.00 L291.13 236.61 L291.53 236.92 L292.82 236.90 L293.22 236.52 L293.52 235.76 L293.77 234.61 L294.02 232.90 L294.22 231.22 L294.42 229.44 L294.62 227.85 L294.82 226.74 L295.02 226.34 L295.22 226.74 L295.42 227.85 L295.62 229.44 L295.82 231.22 L296.02 232.90 L296.27 234.61 L296.52 235.76 L296.82 236.52 L297.22 236.90 L298.50 236.87 L298.90 236.42 L299.20 235.51 L299.45 234.12 L299.70 232.07 L299.90 230.04 L300.10 227.91 L300.30 225.99 L300.50 224.65 L300.70 224.17 L300.90 224.65 L301.10 225.99 L301.30 227.91 L301.50 230.04 L301.70 232.07 L301.95 234.12 L302.20 235.51 L302.50 236.42 L302.90 236.87 L304.19 236.85 L304.59 236.31 L304.89 235.22 L305.14 233.57 L305.39 231.13 L305.59 228.71 L305.79 226.17 L305.99 223.89 L306.19 222.29 L306.39 221.72 L306.59 222.29 L306.79 223.89 L306.99 226.17 L307.19 228.71 L307.39 231.13 L307.64 233.57 L307.89 235.22 L308.19 236.31 L308.59 236.85 L309.88 236.82 L310.28 236.15 L310.58 234.82 L310.83 232.79 L311.08 229.79 L311.28 226.83 L311.48 223.71 L311.68 220.91 L311.88 218.95 L312.08 218.25 L312.28 218.95 L312.48 220.91 L312.68 223.71 L312.88 226.83 L313.08 229.79 L313.33 232.79 L313.58 234.82 L313.88 236.15 L314.28 236.82 L315.56 236.79 L315.96 236.01 L316.26 234.44 L316.51 232.06 L316.76 228.54 L316.96 225.06 L317.16 221.40 L317.36 218.11 L317.56 215.81 L317.76 214.98 L317.96 215.81 L318.16 218.11 L318.36 221.40 L318.56 225.06 L318.76 228.54 L319.01 232.06 L319.26 234.44 L319.56 236.01 L319.96 236.79 L321.25 236.76 L321.65 235.87 L321.95 234.09 L322.20 231.38 L322.45 227.37 L322.65 223.41 L322.85 219.23 L323.05 215.49 L323.25 212.87 L323.45 211.93 L323.65 212.87 L323.85 215.49 L324.05 219.23 L324.25 223.41 L324.45 227.37 L324.70 231.38 L324.95 234.09 L325.25 235.87 L325.65 236.76 L326.93 236.71 L327.33 235.66 L327.63 233.55 L327.88 230.35 L328.13 225.60 L328.33 220.92 L328.53 215.98 L328.73 211.55 L328.93 208.45 L329.13 207.34 L329.33 208.45 L329.53 211.55 L329.73 215.98 L329.93 220.92 L330.13 225.60 L330.38 230.35 L330.63 233.55 L330.93 235.66 L331.33 236.71 L332.62 236.67 L333.02 235.47 L333.32 233.05 L333.57 229.37 L333.82 223.94 L334.02 218.57 L334.22 212.91 L334.42 207.83 L334.62 204.29 L334.82 203.01 L335.02 204.29 L335.22 207.83 L335.42 212.91 L335.62 218.57 L335.82 223.94 L336.07 229.37 L336.32 233.05 L336.62 235.47 L337.02 236.67 L338.31 236.61 L338.71 235.22 L339.01 232.41 L339.26 228.13 L339.51 221.81 L339.71 215.57 L339.91 208.99 L340.11 203.08 L340.31 198.96 L340.51 197.47 L340.71 198.96 L340.91 203.08 L341.11 208.99 L341.31 215.57 L341.51 221.81 L341.76 228.13 L342.01 232.41 L342.31 235.22 L342.71 236.61 L343.99 236.57 L344.39 235.01 L344.69 231.86 L344.94 227.07 L345.19 220.00 L345.39 213.01 L345.59 205.65 L345.79 199.04 L345.99 194.42 L346.19 192.76 L346.39 194.42 L346.59 199.04 L346.79 205.65 L346.99 213.01 L347.19 220.00 L347.44 227.07 L347.69 231.86 L347.99 235.01 L348.39 236.57 L349.68 236.53 L350.08 234.83 L350.38 231.40 L350.63 226.19 L350.88 218.48 L351.08 210.87 L351.28 202.84 L351.48 195.64 L351.68 190.61 L351.88 188.80 L352.08 190.61 L352.28 195.64 L352.48 202.84 L352.68 210.87 L352.88 218.48 L353.13 226.19 L353.38 231.40 L353.68 234.83 L354.08 236.53 L355.36 236.46 L355.76 234.49 L356.06 230.53 L356.31 224.51 L356.56 215.60 L356.76 206.80 L356.96 197.53 L357.16 189.21 L357.36 183.40 L357.56 181.31 L357.76 183.40 L357.96 189.21 L358.16 197.53 L358.36 206.80 L358.56 215.60 L358.81 224.51 L359.06 230.53 L359.36 234.49 L359.76 236.46 L361.05 236.43 L361.45 234.38 L361.75 230.24 L362.00 223.96 L362.25 214.67 L362.45 205.49 L362.65 195.81 L362.85 187.12 L363.05 181.06 L363.25 178.88 L363.45 181.06 L363.65 187.12 L363.85 195.81 L364.05 205.49 L364.25 214.67 L364.50 223.96 L364.75 230.24 L365.05 234.38 L365.45 236.43 L366.74 236.37 L367.14 234.09 L367.44 229.51 L367.69 222.54 L367.94 212.23 L368.14 202.05 L368.34 191.31 L368.54 181.68 L368.74 174.95 L368.94 172.53 L369.14 174.95 L369.34 181.68 L369.54 191.31 L369.74 202.05 L369.94 212.23 L370.19 222.54 L370.44 229.51 L370.74 234.09 L371.14 236.37 L372.42 236.31 L372.82 233.80 L373.12 228.75 L373.37 221.07 L373.62 209.72 L373.82 198.51 L374.02 186.68 L374.22 176.07 L374.42 168.66 L374.62 166.00 L374.82 168.66 L375.02 176.07 L375.22 186.68 L375.42 198.51 L375.62 209.72 L375.87 221.07 L376.12 228.75 L376.42 233.80 L376.82 236.31 L378.11 236.29 L378.51 233.70 L378.81 228.49 L379.06 220.57 L379.31 208.86 L379.51 197.30 L379.71 185.10 L379.91 174.16 L380.11 166.52 L380.31 163.77 L380.51 166.52 L380.71 174.16 L380.91 185.10 L381.11 197.30 L381.31 208.86 L381.56 220.57 L381.81 228.49 L382.11 233.70 L382.51 236.29 L383.79 236.23 L384.19 233.43 L384.49 227.79 L384.74 219.22 L384.99 206.56 L385.19 194.04 L385.39 180.85 L385.59 169.01 L385.79 160.74 L385.99 157.76 L386.19 160.74 L386.39 169.01 L386.59 180.85 L386.79 194.04 L386.99 206.56 L387.24 219.22 L387.49 227.79 L387.79 233.43 L388.19 236.23 L389.48 236.21 L389.88 233.35 L390.18 227.59 L390.43 218.83 L390.68 205.88 L390.88 193.09 L391.08 179.60 L391.28 167.50 L391.48 159.04 L391.68 156.00 L391.88 159.04 L392.08 167.50 L392.28 179.60 L392.48 193.09 L392.68 205.88 L392.93 218.83 L393.18 227.59 L393.48 233.35 L393.88 236.21 L395.17 236.14 L395.57 233.05 L395.87 226.82 L396.12 217.34 L396.37 203.34 L396.57 189.50 L396.77 174.91 L396.97 161.82 L397.17 152.68 L397.37 149.39 L397.57 152.68 L397.77 161.82 L397.97 174.91 L398.17 189.50 L398.37 203.34 L398.62 217.34 L398.87 226.82 L399.17 233.05 L399.57 236.14 L400.85 236.11 L401.25 232.90 L401.55 226.43 L401.80 216.60 L402.05 202.06 L402.25 187.70 L402.45 172.56 L402.65 158.98 L402.85 149.49 L403.05 146.08 L403.25 149.49 L403.45 158.98 L403.65 172.56 L403.85 187.70 L404.05 202.06 L404.30 216.60 L404.55 226.43 L404.85 232.90 L405.25 236.11 L406.54 236.10 L406.94 232.85 L407.24 226.31 L407.49 216.37 L407.74 201.68 L407.94 187.16 L408.14 171.85 L408.34 158.11 L408.54 148.52 L408.74 145.06 L408.94 148.52 L409.14 158.11 L409.34 171.85 L409.54 187.16 L409.74 201.68 L409.99 216.37 L410.24 226.31 L410.54 232.85 L410.94 236.10 L412.22 236.09 L412.62 232.81 L412.92 226.20 L413.17 216.16 L413.42 201.31 L413.62 186.63 L413.82 171.16 L414.02 157.28 L414.22 147.59 L414.42 144.10 L414.62 147.59 L414.82 157.28 L415.02 171.16 L415.22 186.63 L415.42 201.31 L415.67 216.16 L415.92 226.20 L416.22 232.81 L416.62 236.09 L417.91 236.09 L418.31 232.79 L418.61 226.14 L418.86 216.05 L419.11 201.11 L419.31 186.36 L419.51 170.81 L419.71 156.85 L419.91 147.11 L420.11 143.60 L420.31 147.11 L420.51 156.85 L420.71 170.81 L420.91 186.36 L421.11 201.11 L421.36 216.05 L421.61 226.14 L421.91 232.79 L422.31 236.09 L423.60 236.10 L424.00 232.86 L424.30 226.32 L424.55 216.38 L424.80 201.69 L425.00 187.17 L425.20 171.87 L425.40 158.14 L425.60 148.55 L425.80 145.10 L426.00 148.55 L426.20 158.14 L426.40 171.87 L426.60 187.17 L426.80 201.69 L427.05 216.38 L427.30 226.32 L427.60 232.86 L428.00 236.10 L429.28 236.11 L429.68 232.90 L429.98 226.43 L430.23 216.61 L430.48 202.07 L430.68 187.72 L430.88 172.58 L431.08 159.00 L431.28 149.51 L431.48 146.10 L431.68 149.51 L431.88 159.00 L432.08 172.58 L432.28 187.72 L432.48 202.07 L432.73 216.61 L432.98 226.43 L433.28 232.90 L433.68 236.11 L434.97 236.15 L435.37 233.08 L435.67 226.90 L435.92 217.50 L436.17 203.61 L436.37 189.89 L436.57 175.42 L436.77 162.43 L436.97 153.36 L437.17 150.10 L437.37 153.36 L437.57 162.43 L437.77 175.42 L437.97 189.89 L438.17 203.61 L438.42 217.50 L438.67 226.90 L438.97 233.08 L439.37 236.15 L440.65 236.17 L441.05 233.14 L441.35 227.06 L441.60 217.82 L441.85 204.15 L442.05 190.64 L442.25 176.41 L442.45 163.63 L442.65 154.71 L442.85 151.50 L443.05 154.71 L443.25 163.63 L443.45 176.41 L443.65 190.64 L443.85 204.15 L444.10 217.82 L444.35 227.06 L444.65 233.14 L445.05 236.17 L446.34 236.22 L446.74 233.39 L447.04 227.70 L447.29 219.05 L447.54 206.26 L447.74 193.63 L447.94 180.31 L448.14 168.35 L448.34 160.00 L448.54 157.00 L448.74 160.00 L448.94 168.35 L449.14 180.31 L449.34 193.63 L449.54 206.26 L449.79 219.05 L450.04 227.70 L450.34 233.39 L450.74 236.22 L452.03 236.21 L452.43 233.35 L452.73 227.59 L452.98 218.83 L453.23 205.88 L453.43 193.08 L453.63 179.60 L453.83 167.49 L454.03 159.04 L454.23 156.00 L454.43 159.04 L454.63 167.49 L454.83 179.60 L455.03 193.08 L455.23 205.88 L455.48 218.83 L455.73 227.59 L456.03 233.35 L456.43 236.21 L457.71 236.31 L458.11 233.79 L458.41 228.74 L458.66 221.05 L458.91 209.68 L459.11 198.45 L459.31 186.61 L459.51 175.99 L459.71 168.57 L459.91 165.90 L460.11 168.57 L460.31 175.99 L460.51 186.61 L460.71 198.45 L460.91 209.68 L461.16 221.05 L461.41 228.74 L461.71 233.79 L462.11 236.31 L463.40 236.31 L463.80 233.79 L464.10 228.74 L464.35 221.05 L464.60 209.68 L464.80 198.45 L465.00 186.61 L465.20 175.99 L465.40 168.57 L465.60 165.90 L465.80 168.57 L466.00 175.99 L466.20 186.61 L466.40 198.45 L466.60 209.68 L466.85 221.05 L467.10 228.74 L467.40 233.79 L467.80 236.31 L469.08 236.40 L469.48 234.22 L469.78 229.84 L470.03 223.18 L470.28 213.33 L470.48 203.60 L470.68 193.35 L470.88 184.14 L471.08 177.71 L471.28 175.40 L471.48 177.71 L471.68 184.14 L471.88 193.35 L472.08 203.60 L472.28 213.33 L472.53 223.18 L472.78 229.84 L473.08 234.22 L473.48 236.40 L474.77 236.41 L475.17 234.28 L475.47 229.98 L475.72 223.45 L475.97 213.79 L476.17 204.25 L476.37 194.20 L476.57 185.17 L476.77 178.87 L476.97 176.60 L477.17 178.87 L477.37 185.17 L477.57 194.20 L477.77 204.25 L477.97 213.79 L478.22 223.45 L478.47 229.98 L478.77 234.28 L479.17 236.41 L480.46 236.48 L480.86 234.60 L481.16 230.82 L481.41 225.06 L481.66 216.56 L481.86 208.16 L482.06 199.30 L482.26 191.35 L482.46 185.80 L482.66 183.80 L482.86 185.80 L483.06 191.35 L483.26 199.30 L483.46 208.16 L483.66 216.56 L483.91 225.06 L484.16 230.82 L484.46 234.60 L484.86 236.48 L486.14 236.53 L486.54 234.83 L486.84 231.40 L487.09 226.19 L487.34 218.48 L487.54 210.87 L487.74 202.84 L487.94 195.64 L488.14 190.61 L488.34 188.80 L488.54 190.61 L488.74 195.64 L488.94 202.84 L489.14 210.87 L489.34 218.48 L489.59 226.19 L489.84 231.40 L490.14 234.83 L490.54 236.53 L491.83 236.59 L492.23 235.08 L492.53 232.06 L492.78 227.47 L493.03 220.67 L493.23 213.96 L493.43 206.88 L493.63 200.53 L493.83 196.10 L494.03 194.50 L494.23 196.10 L494.43 200.53 L494.63 206.88 L494.83 213.96 L495.03 220.67 L495.28 227.47 L495.53 232.06 L495.83 235.08 L496.23 236.59 L497.51 236.63 L497.91 235.30 L498.21 232.63 L498.46 228.56 L498.71 222.55 L498.91 216.61 L499.11 210.35 L499.31 204.74 L499.51 200.81 L499.71 199.40 L499.91 200.81 L500.11 204.74 L500.31 210.35 L500.51 216.61 L500.71 222.55 L500.96 228.56 L501.21 232.63 L501.51 235.30 L501.91 236.63 L503.20 236.68 L503.60 235.53 L503.90 233.21 L504.15 229.69 L504.40 224.47 L504.60 219.33 L504.80 213.90 L505.00 209.03 L505.20 205.62 L505.40 204.40 L505.60 205.62 L505.80 209.03 L506.00 213.90 L506.20 219.33 L506.40 224.47 L506.65 229.69 L506.90 233.21 L507.20 235.53 L507.60 236.68 L508.89 236.72 L509.29 235.70 L509.59 233.64 L509.84 230.52 L510.09 225.90 L510.29 221.33 L510.49 216.52 L510.69 212.20 L510.89 209.18 L511.09 208.10 L511.29 209.18 L511.49 212.20 L511.69 216.52 L511.89 221.33 L512.09 225.90 L512.34 230.52 L512.59 233.64 L512.89 235.70 L513.29 236.72 L514.57 236.77 L514.97 235.92 L515.27 234.22 L515.52 231.64 L515.77 227.82 L515.97 224.04 L516.17 220.06 L516.37 216.49 L516.57 214.00 L516.77 213.10 L516.97 214.00 L517.17 216.49 L517.37 220.06 L517.57 224.04 L517.77 227.82 L518.02 231.64 L518.27 234.22 L518.57 235.92 L518.97 236.77 L520.26 236.80 L520.66 236.06 L520.96 234.57 L521.21 232.31 L521.46 228.97 L521.66 225.67 L521.86 222.19 L522.06 219.07 L522.26 216.88 L522.46 216.10 L522.66 216.88 L522.86 219.07 L523.06 222.19 L523.26 225.67 L523.46 228.97 L523.71 232.31 L523.96 234.57 L524.26 236.06 L524.66 236.80 L525.94 236.82 L526.34 236.17 L526.64 234.85 L526.89 232.85 L527.14 229.89 L527.34 226.97 L527.54 223.89 L527.74 221.13 L527.94 219.19 L528.14 218.50 L528.34 219.19 L528.54 221.13 L528.74 223.89 L528.94 226.97 L529.14 229.89 L529.39 232.85 L529.64 234.85 L529.94 236.17 L530.34 236.82 L531.63 236.85 L532.03 236.32 L532.33 235.26 L532.58 233.63 L532.83 231.24 L533.03 228.87 L533.23 226.37 L533.43 224.13 L533.63 222.56 L533.83 222.00 L534.03 222.56 L534.23 224.13 L534.43 226.37 L534.63 228.87 L534.83 231.24 L535.08 233.63 L535.33 235.26 L535.63 236.32 L536.03 236.85 L537.32 236.87 L537.72 236.41 L538.02 235.49 L538.27 234.08 L538.52 232.01 L538.72 229.95 L538.92 227.79 L539.12 225.84 L539.32 224.49 L539.52 224.00 L539.72 224.49 L539.92 225.84 L540.12 227.79 L540.32 229.95 L540.52 232.01 L540.77 234.08 L541.02 235.49 L541.32 236.41 L541.72 236.87 L543.00 236.89 L543.40 236.51 L543.70 235.75 L543.95 234.58 L544.20 232.86 L544.40 231.16 L544.60 229.37 L544.80 227.76 L545.00 226.63 L545.20 226.23 L545.40 226.63 L545.60 227.76 L545.80 229.37 L546.00 231.16 L546.20 232.86 L546.45 234.58 L546.70 235.75 L547.00 236.51 L547.40 236.89 L548.69 236.92 L549.09 236.62 L549.39 236.02 L549.64 235.10 L549.89 233.75 L550.09 232.41 L550.29 231.00 L550.49 229.73 L550.69 228.85 L550.89 228.53 L551.09 228.85 L551.29 229.73 L551.49 231.00 L551.69 232.41 L551.89 233.75 L552.14 235.10 L552.39 236.02 L552.69 236.62 L553.09 236.92 L554.37 236.93 L554.77 236.69 L555.07 236.20 L555.32 235.45 L555.57 234.35 L555.77 233.26 L555.97 232.11 L556.17 231.07 L556.37 230.35 L556.57 230.09 L556.77 230.35 L556.97 231.07 L557.17 232.11 L557.37 233.26 L557.57 234.35 L557.82 235.45 L558.07 236.20 L558.37 236.69 L558.77 236.93 L560.06 236.95 L560.46 236.75 L560.76 236.35 L561.01 235.75 L561.26 234.85 L561.46 233.97 L561.66 233.04 L561.86 232.20 L562.06 231.62 L562.26 231.41 L562.46 231.62 L562.66 232.20 L562.86 233.04 L563.06 233.97 L563.26 234.85 L563.51 235.75 L563.76 236.35 L564.06 236.75 L564.46 236.95 L565.75 236.96 L566.15 236.79 L566.45 236.47 L566.70 235.97 L566.95 235.24 L567.15 234.52 L567.35 233.76 L567.55 233.07 L567.75 232.60 L567.95 232.42 L568.15 232.60 L568.35 233.07 L568.55 233.76 L568.75 234.52 L568.95 235.24 L569.20 235.97 L569.45 236.47 L569.75 236.79 L570.15 236.96 L571.43 236.97 L571.83 236.84 L572.13 236.60 L572.38 236.23 L572.63 235.68 L572.83 235.14 L573.03 234.56 L573.23 234.05 L573.43 233.69 L573.63 233.56 L573.83 233.69 L574.03 234.05 L574.23 234.56 L574.43 235.14 L574.63 235.68 L574.88 236.23 L575.13 236.60 L575.43 236.84 L575.83 236.97 L577.12 236.97 L577.52 236.88 L577.82 236.68 L578.07 236.38 L578.32 235.94 L578.52 235.51 L578.72 235.05 L578.92 234.64 L579.12 234.36 L579.32 234.25 L579.52 234.36 L579.72 234.64 L579.92 235.05 L580.12 235.51 L580.32 235.94 L580.57 236.38 L580.82 236.68 L581.12 236.88 L581.52 236.97 L582.80 236.98 L583.20 236.90 L583.50 236.75 L583.75 236.52 L584.00 236.18 L584.20 235.84 L584.40 235.48 L584.60 235.16 L584.80 234.94 L585.00 234.86 L585.20 234.94 L585.40 235.16 L585.60 235.48 L585.80 235.84 L586.00 236.18 L586.25 236.52 L586.50 236.75 L586.80 236.90 L587.20 236.98 L588.49 236.98 L588.89 236.92 L589.19 236.81 L589.44 236.62 L589.69 236.36 L589.89 236.09 L590.09 235.81 L590.29 235.56 L590.49 235.39 L590.69 235.33 L590.89 235.39 L591.09 235.56 L591.29 235.81 L591.49 236.09 L591.69 236.36 L591.94 236.62 L592.19 236.81 L592.49 236.92 L592.89 236.98 L594.18 236.99 L594.58 236.94 L594.88 236.85 L595.13 236.72 L595.38 236.51 L595.58 236.31 L595.78 236.10 L595.98 235.91 L596.18 235.78 L596.38 235.73 L596.58 235.78 L596.78 235.91 L596.98 236.10 L597.18 236.31 L597.38 236.51 L597.63 236.72 L597.88 236.85 L598.18 236.94 L598.58 236.99 L599.86 236.99 L600.26 236.96 L600.56 236.89 L600.81 236.78 L601.06 236.63 L601.26 236.48 L601.46 236.32 L601.66 236.18 L601.86 236.08 L602.06 236.04 L602.26 236.08 L602.46 236.18 L602.66 236.32 L602.86 236.48 L603.06 236.63 L603.31 236.78 L603.56 236.89 L603.86 236.96 L604.26 236.99 L605.55 236.99 L605.95 236.97 L606.25 236.92 L606.50 236.84 L606.75 236.73 L606.95 236.63 L607.15 236.51 L607.35 236.41 L607.55 236.33 L607.75 236.31 L607.95 236.33 L608.15 236.41 L608.35 236.51 L608.55 236.63 L608.75 236.73 L609.00 236.84 L609.25 236.92 L609.55 236.97 L609.95 236.99 L611.23 236.99 L611.63 236.98 L611.93 236.94 L612.18 236.88 L612.43 236.80 L612.63 236.72 L612.83 236.63 L613.03 236.56 L613.23 236.50 L613.43 236.48 L613.63 236.50 L613.83 236.56 L614.03 236.63 L614.23 236.72 L614.43 236.80 L614.68 236.88 L614.93 236.94 L615.23 236.98 L615.63 236.99 L616.92 237.00 L617.32 236.98 L617.62 236.96 L617.87 236.92 L618.12 236.86 L618.32 236.80 L618.52 236.73 L618.72 236.68 L618.92 236.64 L619.12 236.62 L619.32 236.64 L619.52 236.68 L619.72 236.73 L619.92 236.80 L620.12 236.86 L620.37 236.92 L620.62 236.96 L620.92 236.98 L621.32 237.00 L622.61 237.00 L623.01 236.99 L623.31 236.97 L623.56 236.94 L623.81 236.89 L624.01 236.85 L624.21 236.80 L624.41 236.76 L624.61 236.73 L624.81 236.72 L625.01 236.73 L625.21 236.76 L625.41 236.80 L625.61 236.85 L625.81 236.89 L626.06 236.94 L626.31 236.97 L626.61 236.99 L627.01 237.00 L628.29 237.00 L628.69 236.99 L628.99 236.98 L629.24 236.95 L629.49 236.92 L629.69 236.89 L629.89 236.85 L630.09 236.82 L630.29 236.80 L630.49 236.80 L630.69 236.80 L630.89 236.82 L631.09 236.85 L631.29 236.89 L631.49 236.92 L631.74 236.95 L631.99 236.98 L632.29 236.99 L632.69 237.00 L662.10 237.00" transform="translate(-0.70 0.0)" fill="none" stroke="#f01a22" stroke-width="3.0" stroke-linejoin="round" stroke-linecap="butt"/>
<path clip-path="url(#ca)" d="M71.70 237.00 L184.78 237.00 L185.18 236.99 L185.48 236.98 L185.73 236.95 L185.98 236.92 L186.18 236.89 L186.38 236.86 L186.58 236.83 L186.78 236.81 L186.98 236.80 L187.18 236.81 L187.38 236.83 L187.58 236.86 L187.78 236.89 L187.98 236.92 L188.23 236.95 L188.48 236.98 L188.78 236.99 L189.18 237.00 L190.47 237.00 L190.87 236.99 L191.17 236.97 L191.42 236.94 L191.67 236.89 L191.87 236.85 L192.07 236.80 L192.27 236.76 L192.47 236.73 L192.67 236.72 L192.87 236.73 L193.07 236.76 L193.27 236.80 L193.47 236.85 L193.67 236.89 L193.92 236.94 L194.17 236.97 L194.47 236.99 L194.87 237.00 L196.16 237.00 L196.56 236.98 L196.86 236.95 L197.11 236.91 L197.36 236.85 L197.56 236.79 L197.76 236.72 L197.96 236.66 L198.16 236.62 L198.36 236.61 L198.56 236.62 L198.76 236.66 L198.96 236.72 L199.16 236.79 L199.36 236.85 L199.61 236.91 L199.86 236.95 L200.16 236.98 L200.56 237.00 L201.84 236.99 L202.24 236.98 L202.54 236.94 L202.79 236.88 L203.04 236.79 L203.24 236.71 L203.44 236.62 L203.64 236.54 L203.84 236.48 L204.04 236.46 L204.24 236.48 L204.44 236.54 L204.64 236.62 L204.84 236.71 L205.04 236.79 L205.29 236.88 L205.54 236.94 L205.84 236.98 L206.24 236.99 L207.53 236.99 L207.93 236.97 L208.23 236.91 L208.48 236.83 L208.73 236.72 L208.93 236.60 L209.13 236.48 L209.33 236.36 L209.53 236.29 L209.73 236.26 L209.93 236.29 L210.13 236.36 L210.33 236.48 L210.53 236.60 L210.73 236.72 L210.98 236.83 L211.23 236.91 L211.53 236.97 L211.93 236.99 L213.21 236.99 L213.61 236.96 L213.91 236.89 L214.16 236.78 L214.41 236.62 L214.61 236.47 L214.81 236.30 L215.01 236.15 L215.21 236.05 L215.41 236.01 L215.61 236.05 L215.81 236.15 L216.01 236.30 L216.21 236.47 L216.41 236.62 L216.66 236.78 L216.91 236.89 L217.21 236.96 L217.61 236.99 L218.90 236.99 L219.30 236.94 L219.60 236.85 L219.85 236.71 L220.10 236.50 L220.30 236.29 L220.50 236.07 L220.70 235.87 L220.90 235.74 L221.10 235.69 L221.30 235.74 L221.50 235.87 L221.70 236.07 L221.90 236.29 L222.10 236.50 L222.35 236.71 L222.60 236.85 L222.90 236.94 L223.30 236.99 L224.59 236.98 L224.99 236.92 L225.29 236.80 L225.54 236.61 L225.79 236.33 L225.99 236.05 L226.19 235.76 L226.39 235.50 L226.59 235.32 L226.79 235.25 L226.99 235.32 L227.19 235.50 L227.39 235.76 L227.59 236.05 L227.79 236.33 L228.04 236.61 L228.29 236.80 L228.59 236.92 L228.99 236.98 L230.27 236.98 L230.67 236.90 L230.97 236.73 L231.22 236.49 L231.47 236.12 L231.67 235.76 L231.87 235.38 L232.07 235.04 L232.27 234.80 L232.47 234.72 L232.67 234.80 L232.87 235.04 L233.07 235.38 L233.27 235.76 L233.47 236.12 L233.72 236.49 L233.97 236.73 L234.27 236.90 L234.67 236.98 L235.96 236.97 L236.36 236.87 L236.66 236.65 L236.91 236.33 L237.16 235.85 L237.36 235.38 L237.56 234.88 L237.76 234.43 L237.96 234.12 L238.16 234.01 L238.36 234.12 L238.56 234.43 L238.76 234.88 L238.96 235.38 L239.16 235.85 L239.41 236.33 L239.66 236.65 L239.96 236.87 L240.36 236.97 L241.64 236.96 L242.04 236.83 L242.34 236.56 L242.59 236.15 L242.84 235.54 L243.04 234.94 L243.24 234.31 L243.44 233.74 L243.64 233.35 L243.84 233.20 L244.04 233.35 L244.24 233.74 L244.44 234.31 L244.64 234.94 L244.84 235.54 L245.09 236.15 L245.34 236.56 L245.64 236.83 L246.04 236.96 L247.33 236.95 L247.73 236.77 L248.03 236.42 L248.28 235.88 L248.53 235.08 L248.73 234.29 L248.93 233.46 L249.13 232.71 L249.33 232.19 L249.53 232.00 L249.73 232.19 L249.93 232.71 L250.13 233.46 L250.33 234.29 L250.53 235.08 L250.78 235.88 L251.03 236.42 L251.33 236.77 L251.73 236.95 L253.02 236.94 L253.42 236.72 L253.72 236.27 L253.97 235.60 L254.22 234.60 L254.42 233.62 L254.62 232.58 L254.82 231.65 L255.02 230.99 L255.22 230.76 L255.42 230.99 L255.62 231.65 L255.82 232.58 L256.02 233.62 L256.22 234.60 L256.47 235.60 L256.72 236.27 L257.02 236.72 L257.42 236.94 L258.70 236.93 L259.10 236.66 L259.40 236.11 L259.65 235.28 L259.90 234.06 L260.10 232.85 L260.30 231.58 L260.50 230.44 L260.70 229.64 L260.90 229.35 L261.10 229.64 L261.30 230.44 L261.50 231.58 L261.70 232.85 L261.90 234.06 L262.15 235.28 L262.40 236.11 L262.70 236.66 L263.10 236.93 L264.39 236.91 L264.79 236.57 L265.09 235.89 L265.34 234.87 L265.59 233.35 L265.79 231.85 L265.99 230.26 L266.19 228.84 L266.39 227.85 L266.59 227.49 L266.79 227.85 L266.99 228.84 L267.19 230.26 L267.39 231.85 L267.59 233.35 L267.84 234.87 L268.09 235.89 L268.39 236.57 L268.79 236.91 L270.07 236.89 L270.47 236.47 L270.77 235.64 L271.02 234.38 L271.27 232.50 L271.47 230.66 L271.67 228.71 L271.87 226.96 L272.07 225.74 L272.27 225.30 L272.47 225.74 L272.67 226.96 L272.87 228.71 L273.07 230.66 L273.27 232.50 L273.52 234.38 L273.77 235.64 L274.07 236.47 L274.47 236.89 L275.76 236.86 L276.16 236.36 L276.46 235.35 L276.71 233.81 L276.96 231.54 L277.16 229.29 L277.36 226.93 L277.56 224.80 L277.76 223.32 L277.96 222.78 L278.16 223.32 L278.36 224.80 L278.56 226.93 L278.76 229.29 L278.96 231.54 L279.21 233.81 L279.46 235.35 L279.76 236.36 L280.16 236.86 L281.45 236.83 L281.85 236.24 L282.15 235.03 L282.40 233.20 L282.65 230.49 L282.85 227.82 L283.05 225.00 L283.25 222.47 L283.45 220.70 L283.65 220.07 L283.85 220.70 L284.05 222.47 L284.25 225.00 L284.45 227.82 L284.65 230.49 L284.90 233.20 L285.15 235.03 L285.45 236.24 L285.85 236.83 L287.13 236.80 L287.53 236.06 L287.83 234.59 L288.08 232.34 L288.33 229.02 L288.53 225.74 L288.73 222.28 L288.93 219.17 L289.13 217.01 L289.33 216.23 L289.53 217.01 L289.73 219.17 L289.93 222.28 L290.13 225.74 L290.33 229.02 L290.58 232.34 L290.83 234.59 L291.13 236.06 L291.53 236.80 L292.82 236.76 L293.22 235.89 L293.52 234.13 L293.77 231.47 L294.02 227.52 L294.22 223.63 L294.42 219.52 L294.62 215.84 L294.82 213.26 L295.02 212.34 L295.22 213.26 L295.42 215.84 L295.62 219.52 L295.82 223.63 L296.02 227.52 L296.27 231.47 L296.52 234.13 L296.82 235.89 L297.22 236.76 L298.50 236.72 L298.90 235.73 L299.20 233.72 L299.45 230.66 L299.70 226.15 L299.90 221.69 L300.10 216.99 L300.30 212.77 L300.50 209.82 L300.70 208.76 L300.90 209.82 L301.10 212.77 L301.30 216.99 L301.50 221.69 L301.70 226.15 L301.95 230.66 L302.20 233.72 L302.50 235.73 L302.90 236.72 L304.19 236.68 L304.59 235.52 L304.89 233.20 L305.14 229.66 L305.39 224.42 L305.59 219.25 L305.79 213.80 L305.99 208.91 L306.19 205.49 L306.39 204.26 L306.59 205.49 L306.79 208.91 L306.99 213.80 L307.19 219.25 L307.39 224.42 L307.64 229.66 L307.89 233.20 L308.19 235.52 L308.59 236.68 L309.88 236.64 L310.28 235.33 L310.58 232.70 L310.83 228.71 L311.08 222.80 L311.28 216.96 L311.48 210.80 L311.68 205.28 L311.88 201.42 L312.08 200.04 L312.28 201.42 L312.48 205.28 L312.68 210.80 L312.88 216.96 L313.08 222.80 L313.33 228.71 L313.58 232.70 L313.88 235.33 L314.28 236.64 L315.56 236.59 L315.96 235.10 L316.26 232.11 L316.51 227.57 L316.76 220.85 L316.96 214.21 L317.16 207.21 L317.36 200.92 L317.56 196.54 L317.76 194.96 L317.96 196.54 L318.16 200.92 L318.36 207.21 L318.56 214.21 L318.76 220.85 L319.01 227.57 L319.26 232.11 L319.56 235.10 L319.96 236.59 L321.25 236.53 L321.65 234.84 L321.95 231.44 L322.20 226.28 L322.45 218.63 L322.65 211.08 L322.85 203.13 L323.05 195.98 L323.25 191.00 L323.45 189.20 L323.65 191.00 L323.85 195.98 L324.05 203.13 L324.25 211.08 L324.45 218.63 L324.70 226.28 L324.95 231.44 L325.25 234.84 L325.65 236.53 L326.93 236.48 L327.33 234.60 L327.63 230.82 L327.88 225.08 L328.13 216.58 L328.33 208.19 L328.53 199.34 L328.73 191.40 L328.93 185.85 L329.13 183.85 L329.33 185.85 L329.53 191.40 L329.73 199.34 L329.93 208.19 L330.13 216.58 L330.38 225.08 L330.63 230.82 L330.93 234.60 L331.33 236.48 L332.62 236.41 L333.02 234.29 L333.32 230.02 L333.57 223.53 L333.82 213.92 L334.02 204.44 L334.22 194.44 L334.42 185.47 L334.62 179.20 L334.82 176.94 L335.02 179.20 L335.22 185.47 L335.42 194.44 L335.62 204.44 L335.82 213.92 L336.07 223.53 L336.32 230.02 L336.62 234.29 L337.02 236.41 L338.31 236.38 L338.71 234.11 L339.01 229.56 L339.26 222.64 L339.51 212.41 L339.71 202.30 L339.91 191.65 L340.11 182.08 L340.31 175.40 L340.51 173.00 L340.71 175.40 L340.91 182.08 L341.11 191.65 L341.31 202.30 L341.51 212.41 L341.76 222.64 L342.01 229.56 L342.31 234.11 L342.71 236.38 L343.99 236.33 L344.39 233.89 L344.69 228.98 L344.94 221.52 L345.19 210.49 L345.39 199.59 L345.59 188.10 L345.79 177.79 L345.99 170.59 L346.19 168.00 L346.39 170.59 L346.59 177.79 L346.79 188.10 L346.99 199.59 L347.19 210.49 L347.44 221.52 L347.69 228.98 L347.99 233.89 L348.39 236.33 L349.68 236.25 L350.08 233.53 L350.38 228.06 L350.63 219.75 L350.88 207.45 L351.08 195.30 L351.28 182.50 L351.48 171.01 L351.68 162.98 L351.88 160.09 L352.08 162.98 L352.28 171.01 L352.48 182.50 L352.68 195.30 L352.88 207.45 L353.13 219.75 L353.38 228.06 L353.68 233.53 L354.08 236.25 L355.36 236.21 L355.76 233.37 L356.06 227.65 L356.31 218.95 L356.56 206.08 L356.76 193.38 L356.96 179.98 L357.16 167.96 L357.36 159.56 L357.56 156.54 L357.76 159.56 L357.96 167.96 L358.16 179.98 L358.36 193.38 L358.56 206.08 L358.81 218.95 L359.06 227.65 L359.36 233.37 L359.76 236.21 L361.05 236.19 L361.45 233.23 L361.75 227.29 L362.00 218.27 L362.25 204.91 L362.45 191.73 L362.65 177.82 L362.85 165.34 L363.05 156.63 L363.25 153.49 L363.45 156.63 L363.65 165.34 L363.85 177.82 L364.05 191.73 L364.25 204.91 L364.50 218.27 L364.75 227.29 L365.05 233.23 L365.45 236.19 L366.74 236.14 L367.14 233.01 L367.44 226.70 L367.69 217.13 L367.94 202.96 L368.14 188.97 L368.34 174.22 L368.54 160.99 L368.74 151.74 L368.94 148.42 L369.14 151.74 L369.34 160.99 L369.54 174.22 L369.74 188.97 L369.94 202.96 L370.19 217.13 L370.44 226.70 L370.74 233.01 L371.14 236.14 L372.42 236.09 L372.82 232.79 L373.12 226.14 L373.37 216.05 L373.62 201.11 L373.82 186.36 L374.02 170.81 L374.22 156.85 L374.42 147.11 L374.62 143.60 L374.82 147.11 L375.02 156.85 L375.22 170.81 L375.42 186.36 L375.62 201.11 L375.87 216.05 L376.12 226.14 L376.42 232.79 L376.82 236.09 L378.11 236.09 L378.51 232.81 L378.81 226.20 L379.06 216.16 L379.31 201.31 L379.51 186.63 L379.71 171.16 L379.91 157.28 L380.11 147.59 L380.31 144.10 L380.51 147.59 L380.71 157.28 L380.91 171.16 L381.11 186.63 L381.31 201.31 L381.56 216.16 L381.81 226.20 L382.11 232.81 L382.51 236.09 L383.79 236.06 L384.19 232.65 L384.49 225.80 L384.74 215.37 L384.99 199.96 L385.19 184.73 L385.39 168.68 L385.59 154.28 L385.79 144.22 L385.99 140.60 L386.19 144.22 L386.39 154.28 L386.59 168.68 L386.79 184.73 L386.99 199.96 L387.24 215.37 L387.49 225.80 L387.79 232.65 L388.19 236.06 L389.48 236.08 L389.88 232.73 L390.18 226.00 L390.43 215.78 L390.68 200.65 L390.88 185.71 L391.08 169.96 L391.28 155.82 L391.48 145.95 L391.68 142.40 L391.88 145.95 L392.08 155.82 L392.28 169.96 L392.48 185.71 L392.68 200.65 L392.93 215.78 L393.18 226.00 L393.48 232.73 L393.88 236.08 L395.17 236.07 L395.57 232.70 L395.87 225.91 L396.12 215.60 L396.37 200.34 L396.57 185.28 L396.77 169.39 L396.97 155.14 L397.17 145.18 L397.37 141.60 L397.57 145.18 L397.77 155.14 L397.97 169.39 L398.17 185.28 L398.37 200.34 L398.62 215.60 L398.87 225.91 L399.17 232.70 L399.57 236.07 L400.85 236.08 L401.25 232.77 L401.55 226.09 L401.80 215.93 L402.05 200.92 L402.25 186.09 L402.45 170.45 L402.65 156.43 L402.85 146.62 L403.05 143.10 L403.25 146.62 L403.45 156.43 L403.65 170.45 L403.85 186.09 L404.05 200.92 L404.30 215.93 L404.55 226.09 L404.85 232.77 L405.25 236.08 L406.54 236.11 L406.94 232.90 L407.24 226.43 L407.49 216.61 L407.74 202.07 L407.94 187.72 L408.14 172.58 L408.34 159.00 L408.54 149.51 L408.74 146.10 L408.94 149.51 L409.14 159.00 L409.34 172.58 L409.54 187.72 L409.74 202.07 L409.99 216.61 L410.24 226.43 L410.54 232.90 L410.94 236.11 L412.22 236.14 L412.62 233.04 L412.92 226.78 L413.17 217.28 L413.42 203.23 L413.62 189.34 L413.82 174.71 L414.02 161.57 L414.22 152.40 L414.42 149.10 L414.62 152.40 L414.82 161.57 L415.02 174.71 L415.22 189.34 L415.42 203.23 L415.67 217.28 L415.92 226.78 L416.22 233.04 L416.62 236.14 L417.91 236.19 L418.31 233.24 L418.61 227.29 L418.86 218.27 L419.11 204.92 L419.31 191.73 L419.51 177.82 L419.71 165.35 L419.91 156.63 L420.11 153.50 L420.31 156.63 L420.51 165.35 L420.71 177.82 L420.91 191.73 L421.11 204.92 L421.36 218.27 L421.61 227.29 L421.91 233.24 L422.31 236.19 L423.60 236.21 L424.00 233.35 L424.30 227.59 L424.55 218.83 L424.80 205.88 L425.00 193.08 L425.20 179.60 L425.40 167.49 L425.60 159.04 L425.80 156.00 L426.00 159.04 L426.20 167.49 L426.40 179.60 L426.60 193.08 L426.80 205.88 L427.05 218.83 L427.30 227.59 L427.60 233.35 L428.00 236.21 L429.28 236.26 L429.68 233.60 L429.98 228.22 L430.23 220.06 L430.48 207.99 L430.68 196.07 L430.88 183.49 L431.08 172.21 L431.28 164.33 L431.48 161.50 L431.68 164.33 L431.88 172.21 L432.08 183.49 L432.28 196.07 L432.48 207.99 L432.73 220.06 L432.98 228.22 L433.28 233.60 L433.68 236.26 L434.97 236.31 L435.37 233.79 L435.67 228.74 L435.92 221.05 L436.17 209.68 L436.37 198.45 L436.57 186.61 L436.77 175.99 L436.97 168.57 L437.17 165.90 L437.37 168.57 L437.57 175.99 L437.77 186.61 L437.97 198.45 L438.17 209.68 L438.42 221.05 L438.67 228.74 L438.97 233.79 L439.37 236.31 L440.65 236.35 L441.05 234.02 L441.35 229.32 L441.60 222.17 L441.85 211.60 L442.05 201.16 L442.25 190.16 L442.45 180.28 L442.65 173.38 L442.85 170.90 L443.05 173.38 L443.25 180.28 L443.45 190.16 L443.65 201.16 L443.85 211.60 L444.10 222.17 L444.35 229.32 L444.65 234.02 L445.05 236.35 L446.34 236.41 L446.74 234.27 L447.04 229.96 L447.29 223.40 L447.54 213.72 L447.74 204.14 L447.94 194.05 L448.14 185.00 L448.34 178.67 L448.54 176.40 L448.74 178.67 L448.94 185.00 L449.14 194.05 L449.34 204.14 L449.54 213.72 L449.79 223.40 L450.04 229.96 L450.34 234.27 L450.74 236.41 L452.03 236.48 L452.43 234.58 L452.73 230.76 L452.98 224.95 L453.23 216.37 L453.43 207.89 L453.63 198.94 L453.83 190.92 L454.03 185.32 L454.23 183.30 L454.43 185.32 L454.63 190.92 L454.83 198.94 L455.03 207.89 L455.23 216.37 L455.48 224.95 L455.73 230.76 L456.03 234.58 L456.43 236.48 L457.71 236.51 L458.11 234.75 L458.41 231.19 L458.66 225.78 L458.91 217.79 L459.11 209.89 L459.31 201.57 L459.51 194.10 L459.71 188.88 L459.91 187.00 L460.11 188.88 L460.31 194.10 L460.51 201.57 L460.71 209.89 L460.91 217.79 L461.16 225.78 L461.41 231.19 L461.71 234.75 L462.11 236.51 L463.40 236.57 L463.80 235.03 L464.10 231.91 L464.35 227.17 L464.60 220.17 L464.80 213.25 L465.00 205.96 L465.20 199.42 L465.40 194.84 L465.60 193.20 L465.80 194.84 L466.00 199.42 L466.20 205.96 L466.40 213.25 L466.60 220.17 L466.85 227.17 L467.10 231.91 L467.40 235.03 L467.80 236.57 L469.08 236.62 L469.48 235.25 L469.78 232.49 L470.03 228.30 L470.28 222.09 L470.48 215.96 L470.68 209.50 L470.88 203.71 L471.08 199.66 L471.28 198.20 L471.48 199.66 L471.68 203.71 L471.88 209.50 L472.08 215.96 L472.28 222.09 L472.53 228.30 L472.78 232.49 L473.08 235.25 L473.48 236.62 L474.77 236.67 L475.17 235.48 L475.47 233.07 L475.72 229.42 L475.97 224.01 L476.17 218.67 L476.37 213.05 L476.57 208.00 L476.77 204.47 L476.97 203.20 L477.17 204.47 L477.37 208.00 L477.57 213.05 L477.77 218.67 L477.97 224.01 L478.22 229.42 L478.47 233.07 L478.77 235.48 L479.17 236.67 L480.46 236.71 L480.86 235.67 L481.16 233.58 L481.41 230.40 L481.66 225.70 L481.86 221.06 L482.06 216.16 L482.26 211.77 L482.46 208.70 L482.66 207.60 L482.86 208.70 L483.06 211.77 L483.26 216.16 L483.46 221.06 L483.66 225.70 L483.91 230.40 L484.16 233.58 L484.46 235.67 L484.86 236.71 L486.14 236.75 L486.54 235.86 L486.84 234.07 L487.09 231.35 L487.34 227.32 L487.54 223.34 L487.74 219.14 L487.94 215.38 L488.14 212.75 L488.34 211.80 L488.54 212.75 L488.74 215.38 L488.94 219.14 L489.14 223.34 L489.34 227.32 L489.59 231.35 L489.84 234.07 L490.14 235.86 L490.54 236.75 L491.83 236.80 L492.23 236.09 L492.53 234.65 L492.78 232.47 L493.03 229.24 L493.23 226.05 L493.43 222.68 L493.63 219.67 L493.83 217.56 L494.03 216.80 L494.23 217.56 L494.43 219.67 L494.63 222.68 L494.83 226.05 L495.03 229.24 L495.28 232.47 L495.53 234.65 L495.83 236.09 L496.23 236.80 L497.51 236.83 L497.91 236.23 L498.21 235.02 L498.46 233.19 L498.71 230.47 L498.91 227.78 L499.11 224.95 L499.31 222.41 L499.51 220.64 L499.71 220.00 L499.91 220.64 L500.11 222.41 L500.31 224.95 L500.51 227.78 L500.71 230.47 L500.96 233.19 L501.21 235.02 L501.51 236.23 L501.91 236.83 L503.20 236.86 L503.60 236.37 L503.90 235.37 L504.15 233.86 L504.40 231.62 L504.60 229.41 L504.80 227.08 L505.00 224.99 L505.20 223.53 L505.40 223.00 L505.60 223.53 L505.80 224.99 L506.00 227.08 L506.20 229.41 L506.40 231.62 L506.65 233.86 L506.90 235.37 L507.20 236.37 L507.60 236.86 L508.89 236.89 L509.29 236.48 L509.59 235.66 L509.84 234.42 L510.09 232.58 L510.29 230.77 L510.49 228.85 L510.69 227.13 L510.89 225.93 L511.09 225.50 L511.29 225.93 L511.49 227.13 L511.69 228.85 L511.89 230.77 L512.09 232.58 L512.34 234.42 L512.59 235.66 L512.89 236.48 L513.29 236.89 L514.57 236.91 L514.97 236.59 L515.27 235.95 L515.52 234.98 L515.77 233.54 L515.97 232.12 L516.17 230.62 L516.37 229.28 L516.57 228.34 L516.77 228.00 L516.97 228.34 L517.17 229.28 L517.37 230.62 L517.57 232.12 L517.77 233.54 L518.02 234.98 L518.27 235.95 L518.57 236.59 L518.97 236.91 L520.26 236.93 L520.66 236.68 L520.96 236.19 L521.21 235.43 L521.46 234.31 L521.66 233.20 L521.86 232.04 L522.06 230.99 L522.26 230.26 L522.46 230.00 L522.66 230.26 L522.86 230.99 L523.06 232.04 L523.26 233.20 L523.46 234.31 L523.71 235.43 L523.96 236.19 L524.26 236.68 L524.66 236.93 L525.94 236.94 L526.34 236.73 L526.64 236.30 L526.89 235.65 L527.14 234.69 L527.34 233.75 L527.54 232.75 L527.74 231.85 L527.94 231.23 L528.14 231.00 L528.34 231.23 L528.54 231.85 L528.74 232.75 L528.94 233.75 L529.14 234.69 L529.39 235.65 L529.64 236.30 L529.94 236.73 L530.34 236.94 L531.63 236.96 L532.03 236.79 L532.33 236.47 L532.58 235.97 L532.83 235.23 L533.03 234.51 L533.23 233.74 L533.43 233.05 L533.63 232.57 L533.83 232.40 L534.03 232.57 L534.23 233.05 L534.43 233.74 L534.63 234.51 L534.83 235.23 L535.08 235.97 L535.33 236.47 L535.63 236.79 L536.03 236.96 L537.32 236.96 L537.72 236.84 L538.02 236.58 L538.27 236.19 L538.52 235.62 L538.72 235.05 L538.92 234.45 L539.12 233.91 L539.32 233.54 L539.52 233.40 L539.72 233.54 L539.92 233.91 L540.12 234.45 L540.32 235.05 L540.52 235.62 L540.77 236.19 L541.02 236.58 L541.32 236.84 L541.72 236.96 L543.00 236.97 L543.40 236.86 L543.70 236.63 L543.95 236.29 L544.20 235.79 L544.40 235.29 L544.60 234.76 L544.80 234.29 L545.00 233.96 L545.20 233.84 L545.40 233.96 L545.60 234.29 L545.80 234.76 L546.00 235.29 L546.20 235.79 L546.45 236.29 L546.70 236.63 L547.00 236.86 L547.40 236.97 L548.69 236.98 L549.09 236.89 L549.39 236.72 L549.64 236.45 L549.89 236.06 L550.09 235.68 L550.29 235.28 L550.49 234.91 L550.69 234.66 L550.89 234.57 L551.09 234.66 L551.29 234.91 L551.49 235.28 L551.69 235.68 L551.89 236.06 L552.14 236.45 L552.39 236.72 L552.69 236.89 L553.09 236.98 L554.37 236.98 L554.77 236.92 L555.07 236.79 L555.32 236.59 L555.57 236.30 L555.77 236.01 L555.97 235.71 L556.17 235.44 L556.37 235.25 L556.57 235.18 L556.77 235.25 L556.97 235.44 L557.17 235.71 L557.37 236.01 L557.57 236.30 L557.82 236.59 L558.07 236.79 L558.37 236.92 L558.77 236.98 L560.06 236.99 L560.46 236.94 L560.76 236.84 L561.01 236.69 L561.26 236.47 L561.46 236.26 L561.66 236.03 L561.86 235.83 L562.06 235.68 L562.26 235.63 L562.46 235.68 L562.66 235.83 L562.86 236.03 L563.06 236.26 L563.26 236.47 L563.51 236.69 L563.76 236.84 L564.06 236.94 L564.46 236.99 L565.75 236.99 L566.15 236.95 L566.45 236.88 L566.70 236.77 L566.95 236.61 L567.15 236.44 L567.35 236.27 L567.55 236.12 L567.75 236.01 L567.95 235.97 L568.15 236.01 L568.35 236.12 L568.55 236.27 L568.75 236.44 L568.95 236.61 L569.20 236.77 L569.45 236.88 L569.75 236.95 L570.15 236.99 L571.43 236.99 L571.83 236.97 L572.13 236.91 L572.38 236.83 L572.63 236.71 L572.83 236.59 L573.03 236.46 L573.23 236.35 L573.43 236.27 L573.63 236.24 L573.83 236.27 L574.03 236.35 L574.23 236.46 L574.43 236.59 L574.63 236.71 L574.88 236.83 L575.13 236.91 L575.43 236.97 L575.83 236.99 L577.12 236.99 L577.52 236.97 L577.82 236.93 L578.07 236.87 L578.32 236.78 L578.52 236.70 L578.72 236.60 L578.92 236.52 L579.12 236.46 L579.32 236.44 L579.52 236.46 L579.72 236.52 L579.92 236.60 L580.12 236.70 L580.32 236.78 L580.57 236.87 L580.82 236.93 L581.12 236.97 L581.52 236.99 L582.80 237.00 L583.20 236.98 L583.50 236.95 L583.75 236.91 L584.00 236.84 L584.20 236.77 L584.40 236.71 L584.60 236.64 L584.80 236.60 L585.00 236.58 L585.20 236.60 L585.40 236.64 L585.60 236.71 L585.80 236.77 L586.00 236.84 L586.25 236.91 L586.50 236.95 L586.80 236.98 L587.20 237.00 L588.49 237.00 L588.89 236.99 L589.19 236.96 L589.44 236.93 L589.69 236.88 L589.89 236.84 L590.09 236.78 L590.29 236.74 L590.49 236.71 L590.69 236.70 L590.89 236.71 L591.09 236.74 L591.29 236.78 L591.49 236.84 L591.69 236.88 L591.94 236.93 L592.19 236.96 L592.49 236.99 L592.89 237.00 L594.18 237.00 L594.58 236.99 L594.88 236.97 L595.13 236.95 L595.38 236.92 L595.58 236.88 L595.78 236.85 L595.98 236.81 L596.18 236.79 L596.38 236.78 L596.58 236.79 L596.78 236.81 L596.98 236.85 L597.18 236.88 L597.38 236.92 L597.63 236.95 L597.88 236.97 L598.18 236.99 L598.58 237.00 L599.86 237.00 L600.26 236.99 L600.56 236.98 L600.81 236.97 L601.06 236.94 L601.26 236.92 L601.46 236.89 L601.66 236.87 L601.86 236.85 L602.06 236.85 L602.26 236.85 L602.46 236.87 L602.66 236.89 L602.86 236.92 L603.06 236.94 L603.31 236.97 L603.56 236.98 L603.86 236.99 L604.26 237.00 L662.10 237.00" transform="translate(-0.05 -0.4)" fill="none" stroke="#fa961c" stroke-width="3.0" stroke-linejoin="round" stroke-linecap="butt"/>
<path clip-path="url(#ca)" d="M71.70 237.00 L88.12 237.00 L88.52 236.99 L88.82 236.98 L89.07 236.95 L89.32 236.92 L89.52 236.89 L89.72 236.86 L89.92 236.83 L90.12 236.80 L90.32 236.80 L90.52 236.80 L90.72 236.83 L90.92 236.86 L91.12 236.89 L91.32 236.92 L91.57 236.95 L91.82 236.98 L92.12 236.99 L92.52 237.00 L93.81 237.00 L94.21 236.99 L94.51 236.97 L94.76 236.94 L95.01 236.89 L95.21 236.85 L95.41 236.80 L95.61 236.76 L95.81 236.73 L96.01 236.72 L96.21 236.73 L96.41 236.76 L96.61 236.80 L96.81 236.85 L97.01 236.89 L97.26 236.94 L97.51 236.97 L97.81 236.99 L98.21 237.00 L99.49 237.00 L99.89 236.98 L100.19 236.95 L100.44 236.91 L100.69 236.84 L100.89 236.78 L101.09 236.71 L101.29 236.65 L101.49 236.61 L101.69 236.60 L101.89 236.61 L102.09 236.65 L102.29 236.71 L102.49 236.78 L102.69 236.84 L102.94 236.91 L103.19 236.95 L103.49 236.98 L103.89 237.00 L105.18 236.99 L105.58 236.98 L105.88 236.94 L106.13 236.88 L106.38 236.79 L106.58 236.70 L106.78 236.61 L106.98 236.53 L107.18 236.47 L107.38 236.45 L107.58 236.47 L107.78 236.53 L107.98 236.61 L108.18 236.70 L108.38 236.79 L108.63 236.88 L108.88 236.94 L109.18 236.98 L109.58 236.99 L110.87 236.99 L111.27 236.97 L111.57 236.92 L111.82 236.84 L112.07 236.72 L112.27 236.61 L112.47 236.49 L112.67 236.38 L112.87 236.30 L113.07 236.27 L113.27 236.30 L113.47 236.38 L113.67 236.49 L113.87 236.61 L114.07 236.72 L114.32 236.84 L114.57 236.92 L114.87 236.97 L115.27 236.99 L116.55 236.99 L116.95 236.96 L117.25 236.89 L117.50 236.78 L117.75 236.62 L117.95 236.47 L118.15 236.31 L118.35 236.16 L118.55 236.06 L118.75 236.02 L118.95 236.06 L119.15 236.16 L119.35 236.31 L119.55 236.47 L119.75 236.62 L120.00 236.78 L120.25 236.89 L120.55 236.96 L120.95 236.99 L122.24 236.99 L122.64 236.94 L122.94 236.85 L123.19 236.71 L123.44 236.50 L123.64 236.29 L123.84 236.08 L124.04 235.88 L124.24 235.74 L124.44 235.70 L124.64 235.74 L124.84 235.88 L125.04 236.08 L125.24 236.29 L125.44 236.50 L125.69 236.71 L125.94 236.85 L126.24 236.94 L126.64 236.99 L127.92 236.98 L128.32 236.92 L128.62 236.79 L128.87 236.60 L129.12 236.31 L129.32 236.03 L129.52 235.73 L129.72 235.46 L129.92 235.28 L130.12 235.21 L130.32 235.28 L130.52 235.46 L130.72 235.73 L130.92 236.03 L131.12 236.31 L131.37 236.60 L131.62 236.79 L131.92 236.92 L132.32 236.98 L133.61 236.98 L134.01 236.89 L134.31 236.73 L134.56 236.48 L134.81 236.10 L135.01 235.73 L135.21 235.35 L135.41 235.00 L135.61 234.75 L135.81 234.67 L136.01 234.75 L136.21 235.00 L136.41 235.35 L136.61 235.73 L136.81 236.10 L137.06 236.48 L137.31 236.73 L137.61 236.89 L138.01 236.98 L139.30 236.97 L139.70 236.87 L140.00 236.66 L140.25 236.34 L140.50 235.87 L140.70 235.41 L140.90 234.92 L141.10 234.49 L141.30 234.18 L141.50 234.07 L141.70 234.18 L141.90 234.49 L142.10 234.92 L142.30 235.41 L142.50 235.87 L142.75 236.34 L143.00 236.66 L143.30 236.87 L143.70 236.97 L144.98 236.96 L145.38 236.82 L145.68 236.55 L145.93 236.13 L146.18 235.50 L146.38 234.89 L146.58 234.24 L146.78 233.66 L146.98 233.25 L147.18 233.10 L147.38 233.25 L147.58 233.66 L147.78 234.24 L147.98 234.89 L148.18 235.50 L148.43 236.13 L148.68 236.55 L148.98 236.82 L149.38 236.96 L150.67 236.95 L151.07 236.77 L151.37 236.42 L151.62 235.88 L151.87 235.08 L152.07 234.29 L152.27 233.46 L152.47 232.71 L152.67 232.19 L152.87 232.00 L153.07 232.19 L153.27 232.71 L153.47 233.46 L153.67 234.29 L153.87 235.08 L154.12 235.88 L154.37 236.42 L154.67 236.77 L155.07 236.95 L156.35 236.94 L156.75 236.72 L157.05 236.28 L157.30 235.61 L157.55 234.62 L157.75 233.64 L157.95 232.60 L158.15 231.68 L158.35 231.03 L158.55 230.79 L158.75 231.03 L158.95 231.68 L159.15 232.60 L159.35 233.64 L159.55 234.62 L159.80 235.61 L160.05 236.28 L160.35 236.72 L160.75 236.94 L162.04 236.93 L162.44 236.66 L162.74 236.11 L162.99 235.29 L163.24 234.07 L163.44 232.86 L163.64 231.59 L163.84 230.45 L164.04 229.65 L164.24 229.36 L164.44 229.65 L164.64 230.45 L164.84 231.59 L165.04 232.86 L165.24 234.07 L165.49 235.29 L165.74 236.11 L166.04 236.66 L166.44 236.93 L167.73 236.91 L168.13 236.57 L168.43 235.89 L168.68 234.86 L168.93 233.33 L169.13 231.83 L169.33 230.24 L169.53 228.81 L169.73 227.81 L169.93 227.46 L170.13 227.81 L170.33 228.81 L170.53 230.24 L170.73 231.83 L170.93 233.33 L171.18 234.86 L171.43 235.89 L171.73 236.57 L172.13 236.91 L173.41 236.89 L173.81 236.48 L174.11 235.67 L174.36 234.43 L174.61 232.60 L174.81 230.79 L175.01 228.88 L175.21 227.17 L175.41 225.97 L175.61 225.54 L175.81 225.97 L176.01 227.17 L176.21 228.88 L176.41 230.79 L176.61 232.60 L176.86 234.43 L177.11 235.67 L177.41 236.48 L177.81 236.89 L179.10 236.87 L179.50 236.38 L179.80 235.39 L180.05 233.90 L180.30 231.69 L180.50 229.50 L180.70 227.20 L180.90 225.13 L181.10 223.69 L181.30 223.17 L181.50 223.69 L181.70 225.13 L181.90 227.20 L182.10 229.50 L182.30 231.69 L182.55 233.90 L182.80 235.39 L183.10 236.38 L183.50 236.87 L184.78 236.83 L185.18 236.21 L185.48 234.97 L185.73 233.08 L185.98 230.29 L186.18 227.54 L186.38 224.63 L186.58 222.02 L186.78 220.20 L186.98 219.54 L187.18 220.20 L187.38 222.02 L187.58 224.63 L187.78 227.54 L187.98 230.29 L188.23 233.08 L188.48 234.97 L188.78 236.21 L189.18 236.83 L190.47 236.80 L190.87 236.08 L191.17 234.62 L191.42 232.41 L191.67 229.13 L191.87 225.90 L192.07 222.49 L192.27 219.43 L192.47 217.29 L192.67 216.52 L192.87 217.29 L193.07 219.43 L193.27 222.49 L193.47 225.90 L193.67 229.13 L193.92 232.41 L194.17 234.62 L194.47 236.08 L194.87 236.80 L196.16 236.78 L196.56 235.99 L196.86 234.38 L197.11 231.95 L197.36 228.35 L197.56 224.80 L197.76 221.05 L197.96 217.69 L198.16 215.34 L198.36 214.50 L198.56 215.34 L198.76 217.69 L198.96 221.05 L199.16 224.80 L199.36 228.35 L199.61 231.95 L199.86 234.38 L200.16 235.99 L200.56 236.78 L201.84 236.72 L202.24 235.71 L202.54 233.67 L202.79 230.57 L203.04 225.99 L203.24 221.46 L203.44 216.69 L203.64 212.40 L203.84 209.41 L204.04 208.33 L204.24 209.41 L204.44 212.40 L204.64 216.69 L204.84 221.46 L205.04 225.99 L205.29 230.57 L205.54 233.67 L205.84 235.71 L206.24 236.72 L207.53 236.71 L207.93 235.65 L208.23 233.52 L208.48 230.29 L208.73 225.51 L208.93 220.79 L209.13 215.81 L209.33 211.34 L209.53 208.22 L209.73 207.10 L209.93 208.22 L210.13 211.34 L210.33 215.81 L210.53 220.79 L210.73 225.51 L210.98 230.29 L211.23 233.52 L211.53 235.65 L211.93 236.71 L213.21 236.63 L213.61 235.29 L213.91 232.58 L214.16 228.48 L214.41 222.40 L214.61 216.40 L214.81 210.08 L215.01 204.40 L215.21 200.44 L215.41 199.01 L215.61 200.44 L215.81 204.40 L216.01 210.08 L216.21 216.40 L216.41 222.40 L216.66 228.48 L216.91 232.58 L217.21 235.29 L217.61 236.63 L218.90 236.59 L219.30 235.11 L219.60 232.12 L219.85 227.58 L220.10 220.86 L220.30 214.23 L220.50 207.24 L220.70 200.96 L220.90 196.58 L221.10 195.00 L221.30 196.58 L221.50 200.96 L221.70 207.24 L221.90 214.23 L222.10 220.86 L222.35 227.58 L222.60 232.12 L222.90 235.11 L223.30 236.59 L224.59 236.56 L224.99 234.95 L225.29 231.71 L225.54 226.79 L225.79 219.52 L225.99 212.33 L226.19 204.75 L226.39 197.96 L226.59 193.21 L226.79 191.50 L226.99 193.21 L227.19 197.96 L227.39 204.75 L227.59 212.33 L227.79 219.52 L228.04 226.79 L228.29 231.71 L228.59 234.95 L228.99 236.56 L230.27 236.49 L230.67 234.66 L230.97 230.96 L231.22 225.33 L231.47 217.02 L231.67 208.81 L231.87 200.15 L232.07 192.38 L232.27 186.95 L232.47 185.00 L232.67 186.95 L232.87 192.38 L233.07 200.15 L233.27 208.81 L233.47 217.02 L233.72 225.33 L233.97 230.96 L234.27 234.66 L234.67 236.49 L235.96 236.44 L236.36 234.39 L236.66 230.28 L236.91 224.03 L237.16 214.79 L237.36 205.66 L237.56 196.04 L237.76 187.40 L237.96 181.37 L238.16 179.20 L238.36 181.37 L238.56 187.40 L238.76 196.04 L238.96 205.66 L239.16 214.79 L239.41 224.03 L239.66 230.28 L239.96 234.39 L240.36 236.44 L241.64 236.39 L242.04 234.18 L242.34 229.72 L242.59 222.96 L242.84 212.95 L243.04 203.06 L243.24 192.64 L243.44 183.28 L243.64 176.75 L243.84 174.40 L244.04 176.75 L244.24 183.28 L244.44 192.64 L244.64 203.06 L244.84 212.95 L245.09 222.96 L245.34 229.72 L245.64 234.18 L246.04 236.39 L247.33 236.31 L247.73 233.82 L248.03 228.81 L248.28 221.18 L248.53 209.91 L248.73 198.78 L248.93 187.04 L249.13 176.50 L249.33 169.15 L249.53 166.50 L249.73 169.15 L249.93 176.50 L250.13 187.04 L250.33 198.78 L250.53 209.91 L250.78 221.18 L251.03 228.81 L251.33 233.82 L251.73 236.31 L253.02 236.29 L253.42 233.74 L253.72 228.60 L253.97 220.78 L254.22 209.22 L254.42 197.80 L254.62 185.76 L254.82 174.96 L255.02 167.41 L255.22 164.70 L255.42 167.41 L255.62 174.96 L255.82 185.76 L256.02 197.80 L256.22 209.22 L256.47 220.78 L256.72 228.60 L257.02 233.74 L257.42 236.29 L258.70 236.22 L259.10 233.42 L259.40 227.76 L259.65 219.17 L259.90 206.46 L260.10 193.90 L260.30 180.66 L260.50 168.78 L260.70 160.49 L260.90 157.50 L261.10 160.49 L261.30 168.78 L261.50 180.66 L261.70 193.90 L261.90 206.46 L262.15 219.17 L262.40 227.76 L262.70 233.42 L263.10 236.22 L264.39 236.19 L264.79 233.28 L265.09 227.40 L265.34 218.47 L265.59 205.27 L265.79 192.23 L265.99 178.48 L266.19 166.14 L266.39 157.52 L266.59 154.42 L266.79 157.52 L266.99 166.14 L267.19 178.48 L267.39 192.23 L267.59 205.27 L267.84 218.47 L268.09 227.40 L268.39 233.28 L268.79 236.19 L270.07 236.13 L270.47 232.96 L270.77 226.58 L271.02 216.89 L271.27 202.56 L271.47 188.40 L271.67 173.47 L271.87 160.08 L272.07 150.72 L272.27 147.36 L272.47 150.72 L272.67 160.08 L272.87 173.47 L273.07 188.40 L273.27 202.56 L273.52 216.89 L273.77 226.58 L274.07 232.96 L274.47 236.13 L275.76 236.12 L276.16 232.93 L276.46 226.52 L276.71 216.77 L276.96 202.35 L277.16 188.10 L277.36 173.09 L277.56 159.61 L277.76 150.20 L277.96 146.81 L278.16 150.20 L278.36 159.61 L278.56 173.09 L278.76 188.10 L278.96 202.35 L279.21 216.77 L279.46 226.52 L279.76 232.93 L280.16 236.12 L281.45 236.09 L281.85 232.81 L282.15 226.20 L282.40 216.16 L282.65 201.31 L282.85 186.64 L283.05 171.17 L283.25 157.30 L283.45 147.60 L283.65 144.11 L283.85 147.60 L284.05 157.30 L284.25 171.17 L284.45 186.64 L284.65 201.31 L284.90 216.16 L285.15 226.20 L285.45 232.81 L285.85 236.09 L287.13 236.07 L287.53 232.72 L287.83 225.97 L288.08 215.72 L288.33 200.55 L288.53 185.57 L288.73 169.77 L288.93 155.60 L289.13 145.70 L289.33 142.14 L289.53 145.70 L289.73 155.60 L289.93 169.77 L290.13 185.57 L290.33 200.55 L290.58 215.72 L290.83 225.97 L291.13 232.72 L291.53 236.07 L292.82 236.05 L293.22 232.63 L293.52 225.74 L293.77 215.26 L294.02 199.77 L294.22 184.47 L294.42 168.33 L294.62 153.85 L294.82 143.74 L295.02 140.10 L295.22 143.74 L295.42 153.85 L295.62 168.33 L295.82 184.47 L296.02 199.77 L296.27 215.26 L296.52 225.74 L296.82 232.63 L297.22 236.05 L298.50 236.08 L298.90 232.75 L299.20 226.05 L299.45 215.86 L299.70 200.80 L299.90 185.92 L300.10 170.23 L300.30 156.16 L300.50 146.32 L300.70 142.79 L300.90 146.32 L301.10 156.16 L301.30 170.23 L301.50 185.92 L301.70 200.80 L301.95 215.86 L302.20 226.05 L302.50 232.75 L302.90 236.08 L304.19 236.07 L304.59 232.70 L304.89 225.93 L305.14 215.63 L305.39 200.40 L305.59 185.35 L305.79 169.49 L305.99 155.25 L306.19 145.31 L306.39 141.73 L306.59 145.31 L306.79 155.25 L306.99 169.49 L307.19 185.35 L307.39 200.40 L307.64 215.63 L307.89 225.93 L308.19 232.70 L308.59 236.07 L309.88 236.11 L310.28 232.89 L310.58 226.40 L310.83 216.54 L311.08 201.96 L311.28 187.55 L311.48 172.36 L311.68 158.74 L311.88 149.22 L312.08 145.80 L312.28 149.22 L312.48 158.74 L312.68 172.36 L312.88 187.55 L313.08 201.96 L313.33 216.54 L313.58 226.40 L313.88 232.89 L314.28 236.11 L315.56 236.14 L315.96 233.01 L316.26 226.72 L316.51 217.16 L316.76 203.02 L316.96 189.06 L317.16 174.33 L317.36 161.12 L317.56 151.89 L317.76 148.57 L317.96 151.89 L318.16 161.12 L318.36 174.33 L318.56 189.06 L318.76 203.02 L319.01 217.16 L319.26 226.72 L319.56 233.01 L319.96 236.14 L321.25 236.17 L321.65 233.18 L321.95 227.15 L322.20 217.98 L322.45 204.43 L322.65 191.04 L322.85 176.93 L323.05 164.26 L323.25 155.42 L323.45 152.23 L323.65 155.42 L323.85 164.26 L324.05 176.93 L324.25 191.04 L324.45 204.43 L324.70 217.98 L324.95 227.15 L325.25 233.18 L325.65 236.17 L326.93 236.23 L327.33 233.46 L327.63 227.88 L327.88 219.39 L328.13 206.84 L328.33 194.44 L328.53 181.37 L328.73 169.64 L328.93 161.45 L329.13 158.51 L329.33 161.45 L329.53 169.64 L329.73 181.37 L329.93 194.44 L330.13 206.84 L330.38 219.39 L330.63 227.88 L330.93 233.46 L331.33 236.23 L332.62 236.26 L333.02 233.60 L333.32 228.23 L333.57 220.07 L333.82 208.01 L334.02 196.09 L334.22 183.52 L334.42 172.25 L334.62 164.37 L334.82 161.54 L335.02 164.37 L335.22 172.25 L335.42 183.52 L335.62 196.09 L335.82 208.01 L336.07 220.07 L336.32 228.23 L336.62 233.60 L337.02 236.26 L338.31 236.32 L338.71 233.87 L339.01 228.93 L339.26 221.42 L339.51 210.32 L339.71 199.35 L339.91 187.79 L340.11 177.42 L340.31 170.17 L340.51 167.56 L340.71 170.17 L340.91 177.42 L341.11 187.79 L341.31 199.35 L341.51 210.32 L341.76 221.42 L342.01 228.93 L342.31 233.87 L342.71 236.32 L343.99 236.38 L344.39 234.14 L344.69 229.62 L344.94 222.75 L345.19 212.59 L345.39 202.55 L345.59 191.97 L345.79 182.48 L345.99 175.85 L346.19 173.46 L346.39 175.85 L346.59 182.48 L346.79 191.97 L346.99 202.55 L347.19 212.59 L347.44 222.75 L347.69 229.62 L347.99 234.14 L348.39 236.38 L349.68 236.41 L350.08 234.27 L350.38 229.97 L350.63 223.43 L350.88 213.76 L351.08 204.20 L351.28 194.13 L351.48 185.09 L351.68 178.78 L351.88 176.51 L352.08 178.78 L352.28 185.09 L352.48 194.13 L352.68 204.20 L352.88 213.76 L353.13 223.43 L353.38 229.97 L353.68 234.27 L354.08 236.41 L355.36 236.48 L355.76 234.60 L356.06 230.83 L356.31 225.08 L356.56 216.59 L356.76 208.20 L356.96 199.36 L357.16 191.42 L357.36 185.87 L357.56 183.88 L357.76 185.87 L357.96 191.42 L358.16 199.36 L358.36 208.20 L358.56 216.59 L358.81 225.08 L359.06 230.83 L359.36 234.60 L359.76 236.48 L361.05 236.53 L361.45 234.82 L361.75 231.37 L362.00 226.14 L362.25 218.40 L362.45 210.75 L362.65 202.69 L362.85 195.46 L363.05 190.41 L363.25 188.59 L363.45 190.41 L363.65 195.46 L363.85 202.69 L364.05 210.75 L364.25 218.40 L364.50 226.14 L364.75 231.37 L365.05 234.82 L365.45 236.53 L366.74 236.57 L367.14 235.03 L367.44 231.93 L367.69 227.22 L367.94 220.25 L368.14 213.37 L368.34 206.11 L368.54 199.60 L368.74 195.05 L368.94 193.41 L369.14 195.05 L369.34 199.60 L369.54 206.11 L369.74 213.37 L369.94 220.25 L370.19 227.22 L370.44 231.93 L370.74 235.03 L371.14 236.57 L372.42 236.63 L372.82 235.27 L373.12 232.55 L373.37 228.41 L373.62 222.28 L373.82 216.23 L374.02 209.86 L374.22 204.14 L374.42 200.14 L374.62 198.70 L374.82 200.14 L375.02 204.14 L375.22 209.86 L375.42 216.23 L375.62 222.28 L375.87 228.41 L376.12 232.55 L376.42 235.27 L376.82 236.63 L378.11 236.67 L378.51 235.48 L378.81 233.07 L379.06 229.42 L379.31 224.01 L379.51 218.67 L379.71 213.05 L379.91 208.00 L380.11 204.47 L380.31 203.20 L380.51 204.47 L380.71 208.00 L380.91 213.05 L381.11 218.67 L381.31 224.01 L381.56 229.42 L381.81 233.07 L382.11 235.48 L382.51 236.67 L383.79 236.71 L384.19 235.67 L384.49 233.58 L384.74 230.40 L384.99 225.70 L385.19 221.06 L385.39 216.16 L385.59 211.77 L385.79 208.70 L385.99 207.60 L386.19 208.70 L386.39 211.77 L386.59 216.16 L386.79 221.06 L386.99 225.70 L387.24 230.40 L387.49 233.58 L387.79 235.67 L388.19 236.71 L389.48 236.76 L389.88 235.90 L390.18 234.16 L390.43 231.53 L390.68 227.62 L390.88 223.77 L391.08 219.71 L391.28 216.06 L391.48 213.52 L391.68 212.60 L391.88 213.52 L392.08 216.06 L392.28 219.71 L392.48 223.77 L392.68 227.62 L392.93 231.53 L393.18 234.16 L393.48 235.90 L393.88 236.76 L395.17 236.80 L395.57 236.06 L395.87 234.57 L396.12 232.31 L396.37 228.97 L396.57 225.67 L396.77 222.19 L396.97 219.07 L397.17 216.88 L397.37 216.10 L397.57 216.88 L397.77 219.07 L397.97 222.19 L398.17 225.67 L398.37 228.97 L398.62 232.31 L398.87 234.57 L399.17 236.06 L399.57 236.80 L400.85 236.83 L401.25 236.20 L401.55 234.94 L401.80 233.03 L402.05 230.20 L402.25 227.40 L402.45 224.46 L402.65 221.81 L402.85 219.96 L403.05 219.30 L403.25 219.96 L403.45 221.81 L403.65 224.46 L403.85 227.40 L404.05 230.20 L404.30 233.03 L404.55 234.94 L404.85 236.20 L405.25 236.83 L406.54 236.86 L406.94 236.35 L407.24 235.31 L407.49 233.75 L407.74 231.43 L407.94 229.14 L408.14 226.72 L408.34 224.56 L408.54 223.04 L408.74 222.50 L408.94 223.04 L409.14 224.56 L409.34 226.72 L409.54 229.14 L409.74 231.43 L409.99 233.75 L410.24 235.31 L410.54 236.35 L410.94 236.86 L412.22 236.88 L412.62 236.46 L412.92 235.61 L413.17 234.31 L413.42 232.39 L413.62 230.49 L413.82 228.50 L414.02 226.70 L414.22 225.45 L414.42 225.00 L414.62 225.45 L414.82 226.70 L415.02 228.50 L415.22 230.49 L415.42 232.39 L415.67 234.31 L415.92 235.61 L416.22 236.46 L416.62 236.88 L417.91 236.91 L418.31 236.57 L418.61 235.90 L418.86 234.87 L419.11 233.35 L419.31 231.85 L419.51 230.27 L419.71 228.85 L419.91 227.86 L420.11 227.50 L420.31 227.86 L420.51 228.85 L420.71 230.27 L420.91 231.85 L421.11 233.35 L421.36 234.87 L421.61 235.90 L421.91 236.57 L422.31 236.91 L423.60 236.93 L424.00 236.66 L424.30 236.13 L424.55 235.32 L424.80 234.12 L425.00 232.93 L425.20 231.68 L425.40 230.56 L425.60 229.78 L425.80 229.50 L426.00 229.78 L426.20 230.56 L426.40 231.68 L426.60 232.93 L426.80 234.12 L427.05 235.32 L427.30 236.13 L427.60 236.66 L428.00 236.93 L429.28 236.94 L429.68 236.73 L429.98 236.30 L430.23 235.65 L430.48 234.69 L430.68 233.75 L430.88 232.75 L431.08 231.85 L431.28 231.23 L431.48 231.00 L431.68 231.23 L431.88 231.85 L432.08 232.75 L432.28 233.75 L432.48 234.69 L432.73 235.65 L432.98 236.30 L433.28 236.73 L433.68 236.94 L434.97 236.96 L435.37 236.79 L435.67 236.47 L435.92 235.97 L436.17 235.23 L436.37 234.51 L436.57 233.74 L436.77 233.05 L436.97 232.57 L437.17 232.40 L437.37 232.57 L437.57 233.05 L437.77 233.74 L437.97 234.51 L438.17 235.23 L438.42 235.97 L438.67 236.47 L438.97 236.79 L439.37 236.96 L440.65 236.96 L441.05 236.84 L441.35 236.58 L441.60 236.19 L441.85 235.62 L442.05 235.05 L442.25 234.45 L442.45 233.91 L442.65 233.54 L442.85 233.40 L443.05 233.54 L443.25 233.91 L443.45 234.45 L443.65 235.05 L443.85 235.62 L444.10 236.19 L444.35 236.58 L444.65 236.84 L445.05 236.96 L446.34 236.97 L446.74 236.86 L447.04 236.63 L447.29 236.29 L447.54 235.79 L447.74 235.29 L447.94 234.77 L448.14 234.30 L448.34 233.97 L448.54 233.85 L448.74 233.97 L448.94 234.30 L449.14 234.77 L449.34 235.29 L449.54 235.79 L449.79 236.29 L450.04 236.63 L450.34 236.86 L450.74 236.97 L452.03 236.98 L452.43 236.89 L452.73 236.72 L452.98 236.47 L453.23 236.09 L453.43 235.71 L453.63 235.32 L453.83 234.96 L454.03 234.71 L454.23 234.62 L454.43 234.71 L454.63 234.96 L454.83 235.32 L455.03 235.71 L455.23 236.09 L455.48 236.47 L455.73 236.72 L456.03 236.89 L456.43 236.98 L457.71 236.98 L458.11 236.92 L458.41 236.79 L458.66 236.59 L458.91 236.30 L459.11 236.01 L459.31 235.70 L459.51 235.43 L459.71 235.24 L459.91 235.17 L460.11 235.24 L460.31 235.43 L460.51 235.70 L460.71 236.01 L460.91 236.30 L461.16 236.59 L461.41 236.79 L461.71 236.92 L462.11 236.98 L463.40 236.99 L463.80 236.94 L464.10 236.84 L464.35 236.69 L464.60 236.47 L464.80 236.25 L465.00 236.02 L465.20 235.82 L465.40 235.67 L465.60 235.62 L465.80 235.67 L466.00 235.82 L466.20 236.02 L466.40 236.25 L466.60 236.47 L466.85 236.69 L467.10 236.84 L467.40 236.94 L467.80 236.99 L469.08 236.99 L469.48 236.95 L469.78 236.88 L470.03 236.77 L470.28 236.60 L470.48 236.44 L470.68 236.27 L470.88 236.11 L471.08 236.00 L471.28 235.96 L471.48 236.00 L471.68 236.11 L471.88 236.27 L472.08 236.44 L472.28 236.60 L472.53 236.77 L472.78 236.88 L473.08 236.95 L473.48 236.99 L474.77 236.99 L475.17 236.97 L475.47 236.91 L475.72 236.83 L475.97 236.70 L476.17 236.58 L476.37 236.45 L476.57 236.33 L476.77 236.25 L476.97 236.22 L477.17 236.25 L477.37 236.33 L477.57 236.45 L477.77 236.58 L477.97 236.70 L478.22 236.83 L478.47 236.91 L478.77 236.97 L479.17 236.99 L480.46 236.99 L480.86 236.97 L481.16 236.93 L481.41 236.87 L481.66 236.78 L481.86 236.69 L482.06 236.60 L482.26 236.52 L482.46 236.46 L482.66 236.44 L482.86 236.46 L483.06 236.52 L483.26 236.60 L483.46 236.69 L483.66 236.78 L483.91 236.87 L484.16 236.93 L484.46 236.97 L484.86 236.99 L486.14 237.00 L486.54 236.98 L486.84 236.95 L487.09 236.91 L487.34 236.84 L487.54 236.78 L487.74 236.71 L487.94 236.65 L488.14 236.60 L488.34 236.59 L488.54 236.60 L488.74 236.65 L488.94 236.71 L489.14 236.78 L489.34 236.84 L489.59 236.91 L489.84 236.95 L490.14 236.98 L490.54 237.00 L491.83 237.00 L492.23 236.99 L492.53 236.97 L492.78 236.93 L493.03 236.89 L493.23 236.84 L493.43 236.79 L493.63 236.74 L493.83 236.71 L494.03 236.70 L494.23 236.71 L494.43 236.74 L494.63 236.79 L494.83 236.84 L495.03 236.89 L495.28 236.93 L495.53 236.97 L495.83 236.99 L496.23 237.00 L497.51 237.00 L497.91 236.99 L498.21 236.97 L498.46 236.95 L498.71 236.92 L498.91 236.88 L499.11 236.85 L499.31 236.81 L499.51 236.79 L499.71 236.78 L499.91 236.79 L500.11 236.81 L500.31 236.85 L500.51 236.88 L500.71 236.92 L500.96 236.95 L501.21 236.97 L501.51 236.99 L501.91 237.00 L503.20 237.00 L503.60 236.99 L503.90 236.98 L504.15 236.97 L504.40 236.94 L504.60 236.92 L504.80 236.89 L505.00 236.87 L505.20 236.85 L505.40 236.85 L505.60 236.85 L505.80 236.87 L506.00 236.89 L506.20 236.92 L506.40 236.94 L506.65 236.97 L506.90 236.98 L507.20 236.99 L507.60 237.00 L662.10 237.00" transform="translate(0.00 0.0)" fill="none" stroke="#089d60" stroke-width="3.0" stroke-linejoin="round" stroke-linecap="butt"/>
<g stroke="#231f20" stroke-width="1.7" fill="none">
<path d="M71.7 37.4 V246.5"/>
<path d="M71.7 237.0 H662.1"/>
<path d="M62.1 237.00 H71.7"/>
<path d="M62.1 197.26 H71.7"/>
<path d="M62.1 157.52 H71.7"/>
<path d="M62.1 117.78 H71.7"/>
<path d="M62.1 78.04 H71.7"/>
<path d="M62.1 38.30 H71.7"/>
<path d="M219.30 237.0 V245.5"/>
<path d="M366.90 237.0 V245.5"/>
<path d="M514.50 237.0 V245.5"/>
<path d="M662.10 237.0 V245.5"/>
</g>
<g stroke="#231f20" stroke-width="1.7" fill="none">
<path d="M75.0 334.9 V597.9"/>
<path d="M74.2 597.2 H652.2" stroke-width="1.9"/>
<path d="M63.5 594.90 H75.0"/>
<path d="M63.5 543.08 H75.0"/>
<path d="M63.5 491.26 H75.0"/>
<path d="M63.5 439.44 H75.0"/>
<path d="M63.5 387.62 H75.0"/>
<path d="M63.5 335.80 H75.0"/>
<path d="M114.80 597.1 V607.5"/>
<path d="M268.80 597.1 V607.5"/>
<path d="M422.80 597.1 V607.5"/>
<path d="M576.80 597.1 V607.5"/>
</g>
<path d="M155.80 594.90 L156.80 594.90 L157.80 594.90 L158.80 594.90 L159.80 594.90 L160.80 594.90 L161.80 594.90 L162.80 594.90 L163.80 594.90 L164.80 594.90 L165.80 594.90 L166.80 594.90 L167.80 594.90 L168.80 594.90 L169.80 594.90 L170.80 594.90 L171.80 594.90 L172.80 594.90 L173.80 594.90 L174.80 594.90 L175.80 594.90 L176.80 594.90 L177.80 594.90 L178.80 594.90 L179.80 594.90 L180.80 594.90 L181.80 594.90 L182.80 594.90 L183.80 594.90 L184.80 594.90 L185.80 594.90 L186.80 594.90 L187.80 594.90 L188.80 594.90 L189.80 594.89 L190.80 594.89 L191.80 594.89 L192.80 594.88 L193.80 594.87 L194.80 594.86 L195.80 594.85 L196.80 594.83 L197.80 594.80 L198.80 594.77 L199.80 594.72 L200.80 594.66 L201.80 594.58 L202.80 594.47 L203.80 594.34 L204.80 594.16 L205.80 593.94 L206.80 593.65 L207.80 593.30 L208.80 592.85 L209.80 592.30 L210.80 591.61 L211.80 590.77 L212.80 589.75 L213.80 588.51 L214.80 587.03 L215.80 585.25 L216.80 583.15 L217.80 580.68 L218.80 577.80 L219.80 574.45 L220.80 570.59 L221.80 566.19 L222.80 561.19 L223.80 555.56 L224.80 549.27 L225.80 542.29 L226.80 534.61 L227.80 526.24 L228.80 517.17 L229.80 507.44 L230.80 497.08 L231.80 486.17 L232.80 474.76 L233.80 462.97 L234.80 450.90 L235.80 438.68 L236.80 426.44 L237.80 414.35 L238.80 402.56 L239.80 391.25 L240.80 380.58 L241.80 370.72 L242.80 361.82 L243.80 354.04 L244.80 347.51 L245.80 342.34 L246.80 338.63 L247.80 336.44 L248.80 335.81 L249.80 336.75 L250.80 339.25 L251.80 343.26 L252.80 348.71 L253.80 355.50 L254.80 363.51 L255.80 372.62 L256.80 382.65 L257.80 393.47 L258.80 404.89 L259.80 416.75 L260.80 428.88 L261.80 441.13 L262.80 453.33 L263.80 465.36 L264.80 477.08 L265.80 488.39 L266.80 499.20 L267.80 509.43 L268.80 519.04 L269.80 527.97 L270.80 536.21 L271.80 543.74 L272.80 550.58 L273.80 556.74 L274.80 562.24 L275.80 567.12 L276.80 571.41 L277.80 575.16 L278.80 578.41 L279.80 581.21 L280.80 583.60 L281.80 585.63 L282.80 587.35 L283.80 588.78 L284.80 589.97 L285.80 590.95 L286.80 591.76 L287.80 592.42 L288.80 592.95 L289.80 593.38 L290.80 593.72 L291.80 593.99 L292.80 594.20 L293.80 594.37 L294.80 594.50 L295.80 594.59 L296.80 594.67 L297.80 594.73 L298.80 594.77 L299.80 594.81 L300.80 594.83 L301.80 594.85 L302.80 594.86 L303.80 594.87 L304.80 594.88 L305.80 594.89 L306.80 594.89 L307.80 594.89 L308.80 594.90 L309.80 594.90 L310.80 594.90 L311.80 594.90 L312.80 594.90 L313.80 594.90 L314.80 594.90 L315.80 594.90 L316.80 594.90 L317.80 594.90 L318.80 594.90 L319.80 594.90 L320.80 594.90 L321.80 594.90 L322.80 594.90 L323.80 594.90 L324.80 594.90 L325.80 594.90 L326.80 594.90 L327.80 594.90 L328.80 594.90 L329.80 594.90 L330.80 594.90 L331.80 594.90 L332.80 594.90 L333.80 594.90 L334.80 594.90 L335.80 594.90 L336.80 594.90 L337.80 594.90 L338.80 594.90 L339.80 594.90 L340.80 594.90 L341.80 594.90 L342.80 594.90 L343.80 594.90 L344.80 594.90 L345.80 594.90 L346.80 594.90 L347.80 594.90 L348.80 594.90 L349.80 594.90 L350.80 594.90 L351.80 594.90" fill="none" stroke="#0d0d0d" stroke-width="3.0" stroke-linejoin="round"/>
<path d="M155.80 571.25 L156.80 570.17 L157.80 569.05 L158.80 567.89 L159.80 566.69 L160.80 565.44 L161.80 564.14 L162.80 562.80 L163.80 561.41 L164.80 559.96 L165.80 558.47 L166.80 556.93 L167.80 555.33 L168.80 553.68 L169.80 551.97 L170.80 550.21 L171.80 548.39 L172.80 546.51 L173.80 544.57 L174.80 542.58 L175.80 540.52 L176.80 538.40 L177.80 536.22 L178.80 533.97 L179.80 531.66 L180.80 529.29 L181.80 526.86 L182.80 524.36 L183.80 521.79 L184.80 519.16 L185.80 516.47 L186.80 513.72 L187.80 510.90 L188.80 508.01 L189.80 505.07 L190.80 502.06 L191.80 499.00 L192.80 495.87 L193.80 492.69 L194.80 489.45 L195.80 486.16 L196.80 482.82 L197.80 479.42 L198.80 475.98 L199.80 472.49 L200.80 468.96 L201.80 465.39 L202.80 461.78 L203.80 458.14 L204.80 454.46 L205.80 450.76 L206.80 447.04 L207.80 443.30 L208.80 439.55 L209.80 435.78 L210.80 432.01 L211.80 428.23 L212.80 424.46 L213.80 420.70 L214.80 416.96 L215.80 413.23 L216.80 409.53 L217.80 405.85 L218.80 402.21 L219.80 398.61 L220.80 395.06 L221.80 391.56 L222.80 388.12 L223.80 384.74 L224.80 381.43 L225.80 378.20 L226.80 375.05 L227.80 371.98 L228.80 369.00 L229.80 366.13 L230.80 363.35 L231.80 360.68 L232.80 358.13 L233.80 355.69 L234.80 353.37 L235.80 351.18 L236.80 349.13 L237.80 347.20 L238.80 345.42 L239.80 343.78 L240.80 342.29 L241.80 340.94 L242.80 339.74 L243.80 338.70 L244.80 337.82 L245.80 337.10 L246.80 336.53 L247.80 336.12 L248.80 335.88 L249.80 335.80 L250.80 335.88 L251.80 336.12 L252.80 336.53 L253.80 337.10 L254.80 337.82 L255.80 338.70 L256.80 339.74 L257.80 340.94 L258.80 342.29 L259.80 343.78 L260.80 345.42 L261.80 347.20 L262.80 349.13 L263.80 351.18 L264.80 353.37 L265.80 355.69 L266.80 358.13 L267.80 360.68 L268.80 363.35 L269.80 366.13 L270.80 369.00 L271.80 371.98 L272.80 375.05 L273.80 378.20 L274.80 381.43 L275.80 384.74 L276.80 388.12 L277.80 391.56 L278.80 395.06 L279.80 398.61 L280.80 402.21 L281.80 405.85 L282.80 409.53 L283.80 413.23 L284.80 416.96 L285.80 420.70 L286.80 424.46 L287.80 428.23 L288.80 432.01 L289.80 435.78 L290.80 439.55 L291.80 443.30 L292.80 447.04 L293.80 450.76 L294.80 454.46 L295.80 458.14 L296.80 461.78 L297.80 465.39 L298.80 468.96 L299.80 472.49 L300.80 475.98 L301.80 479.42 L302.80 482.82 L303.80 486.16 L304.80 489.45 L305.80 492.69 L306.80 495.87 L307.80 499.00 L308.80 502.06 L309.80 505.07 L310.80 508.01 L311.80 510.90 L312.80 513.72 L313.80 516.47 L314.80 519.16 L315.80 521.79 L316.80 524.36 L317.80 526.86 L318.80 529.29 L319.80 531.66 L320.80 533.97 L321.80 536.22 L322.80 538.40 L323.80 540.52 L324.80 542.58 L325.80 544.57 L326.80 546.51 L327.80 548.39 L328.80 550.21 L329.80 551.97 L330.80 553.68 L331.80 555.33 L332.80 556.93 L333.80 558.47 L334.80 559.96 L335.80 561.41 L336.80 562.80 L337.80 564.14 L338.80 565.44 L339.80 566.69 L340.80 567.89 L341.80 569.05 L342.80 570.17 L343.80 571.25 L344.80 572.28 L345.80 573.28 L346.80 574.24 L347.80 575.16 L348.80 576.05 L349.80 576.90 L350.80 577.72 L351.80 578.51" fill="none" stroke="#f3131f" stroke-width="3.0" stroke-linejoin="round"/>
<path d="M155.80 593.56 L156.80 593.54 L157.80 593.51 L158.80 593.48 L159.80 593.44 L160.80 593.39 L161.80 593.34 L162.80 593.28 L163.80 593.22 L164.80 593.14 L165.80 593.05 L166.80 592.95 L167.80 592.84 L168.80 592.71 L169.80 592.57 L170.80 592.40 L171.80 592.21 L172.80 592.00 L173.80 591.76 L174.80 591.49 L175.80 591.19 L176.80 590.85 L177.80 590.48 L178.80 590.05 L179.80 589.59 L180.80 589.06 L181.80 588.49 L182.80 587.85 L183.80 587.14 L184.80 586.36 L185.80 585.50 L186.80 584.56 L187.80 583.53 L188.80 582.40 L189.80 581.17 L190.80 579.82 L191.80 578.36 L192.80 576.78 L193.80 575.06 L194.80 573.21 L195.80 571.21 L196.80 569.05 L197.80 566.74 L198.80 564.27 L199.80 561.62 L200.80 558.80 L201.80 555.79 L202.80 552.60 L203.80 549.21 L204.80 545.63 L205.80 541.85 L206.80 537.87 L207.80 533.70 L208.80 529.32 L209.80 524.74 L210.80 519.96 L211.80 515.00 L212.80 509.84 L213.80 504.50 L214.80 498.99 L215.80 493.31 L216.80 487.48 L217.80 481.50 L218.80 475.39 L219.80 469.17 L220.80 462.85 L221.80 456.45 L222.80 449.98 L223.80 443.48 L224.80 436.95 L225.80 430.42 L226.80 423.92 L227.80 417.47 L228.80 411.09 L229.80 404.80 L230.80 398.65 L231.80 392.64 L232.80 386.81 L233.80 381.18 L234.80 375.77 L235.80 370.62 L236.80 365.75 L237.80 361.17 L238.80 356.92 L239.80 353.01 L240.80 349.46 L241.80 346.28 L242.80 343.51 L243.80 341.14 L244.80 339.20 L245.80 337.68 L246.80 336.61 L247.80 335.98 L248.80 335.80 L249.80 336.07 L250.80 336.79 L251.80 337.95 L252.80 339.55 L253.80 341.58 L254.80 344.03 L255.80 346.89 L256.80 350.14 L257.80 353.76 L258.80 357.74 L259.80 362.06 L260.80 366.70 L261.80 371.63 L262.80 376.84 L263.80 382.29 L264.80 387.96 L265.80 393.83 L266.80 399.87 L267.80 406.05 L268.80 412.35 L269.80 418.75 L270.80 425.22 L271.80 431.73 L272.80 438.26 L273.80 444.78 L274.80 451.28 L275.80 457.73 L276.80 464.12 L277.80 470.42 L278.80 476.62 L279.80 482.71 L280.80 488.66 L281.80 494.46 L282.80 500.11 L283.80 505.58 L284.80 510.89 L285.80 516.01 L286.80 520.94 L287.80 525.67 L288.80 530.21 L289.80 534.55 L290.80 538.69 L291.80 542.62 L292.80 546.36 L293.80 549.90 L294.80 553.25 L295.80 556.41 L296.80 559.38 L297.80 562.16 L298.80 564.78 L299.80 567.22 L300.80 569.50 L301.80 571.62 L302.80 573.59 L303.80 575.41 L304.80 577.10 L305.80 578.66 L306.80 580.10 L307.80 581.42 L308.80 582.63 L309.80 583.74 L310.80 584.76 L311.80 585.68 L312.80 586.52 L313.80 587.29 L314.80 587.98 L315.80 588.61 L316.80 589.17 L317.80 589.68 L318.80 590.14 L319.80 590.55 L320.80 590.92 L321.80 591.25 L322.80 591.55 L323.80 591.81 L324.80 592.04 L325.80 592.25 L326.80 592.43 L327.80 592.60 L328.80 592.74 L329.80 592.87 L330.80 592.98 L331.80 593.07 L332.80 593.16 L333.80 593.23 L334.80 593.30 L335.80 593.35 L336.80 593.40 L337.80 593.45 L338.80 593.48 L339.80 593.51 L340.80 593.54 L341.80 593.57 L342.80 593.59 L343.80 593.60 L344.80 593.62 L345.80 593.63 L346.80 593.64 L347.80 593.65 L348.80 593.66 L349.80 593.67 L350.80 593.67 L351.80 593.68" fill="none" stroke="#fa9518" stroke-width="3.0" stroke-linejoin="round"/>
<path d="M155.80 594.30 L156.80 594.30 L157.80 594.30 L158.80 594.30 L159.80 594.30 L160.80 594.30 L161.80 594.30 L162.80 594.30 L163.80 594.30 L164.80 594.30 L165.80 594.30 L166.80 594.30 L167.80 594.30 L168.80 594.30 L169.80 594.30 L170.80 594.30 L171.80 594.29 L172.80 594.29 L173.80 594.29 L174.80 594.29 L175.80 594.28 L176.80 594.28 L177.80 594.27 L178.80 594.26 L179.80 594.25 L180.80 594.24 L181.80 594.22 L182.80 594.20 L183.80 594.17 L184.80 594.14 L185.80 594.10 L186.80 594.05 L187.80 593.99 L188.80 593.91 L189.80 593.82 L190.80 593.70 L191.80 593.57 L192.80 593.40 L193.80 593.20 L194.80 592.96 L195.80 592.67 L196.80 592.33 L197.80 591.93 L198.80 591.46 L199.80 590.90 L200.80 590.25 L201.80 589.49 L202.80 588.61 L203.80 587.59 L204.80 586.42 L205.80 585.08 L206.80 583.55 L207.80 581.81 L208.80 579.84 L209.80 577.63 L210.80 575.14 L211.80 572.36 L212.80 569.26 L213.80 565.84 L214.80 562.06 L215.80 557.91 L216.80 553.38 L217.80 548.45 L218.80 543.11 L219.80 537.36 L220.80 531.19 L221.80 524.61 L222.80 517.61 L223.80 510.22 L224.80 502.45 L225.80 494.32 L226.80 485.87 L227.80 477.13 L228.80 468.14 L229.80 458.95 L230.80 449.62 L231.80 440.21 L232.80 430.78 L233.80 421.40 L234.80 412.14 L235.80 403.07 L236.80 394.29 L237.80 385.85 L238.80 377.85 L239.80 370.35 L240.80 363.43 L241.80 357.16 L242.80 351.60 L243.80 346.80 L244.80 342.82 L245.80 339.71 L246.80 337.48 L247.80 336.18 L248.80 335.80 L249.80 336.37 L250.80 337.86 L251.80 340.26 L252.80 343.55 L253.80 347.70 L254.80 352.65 L255.80 358.36 L256.80 364.77 L257.80 371.81 L258.80 379.41 L259.80 387.51 L260.80 396.02 L261.80 404.87 L262.80 413.97 L263.80 423.26 L264.80 432.66 L265.80 442.10 L266.80 451.50 L267.80 460.80 L268.80 469.96 L269.80 478.90 L270.80 487.58 L271.80 495.97 L272.80 504.03 L273.80 511.73 L274.80 519.04 L275.80 525.96 L276.80 532.46 L277.80 538.55 L278.80 544.22 L279.80 549.47 L280.80 554.32 L281.80 558.77 L282.80 562.85 L283.80 566.55 L284.80 569.91 L285.80 572.94 L286.80 575.66 L287.80 578.09 L288.80 580.26 L289.80 582.18 L290.80 583.87 L291.80 585.37 L292.80 586.67 L293.80 587.81 L294.80 588.80 L295.80 589.65 L296.80 590.39 L297.80 591.02 L298.80 591.56 L299.80 592.02 L300.80 592.41 L301.80 592.74 L302.80 593.01 L303.80 593.24 L304.80 593.44 L305.80 593.60 L306.80 593.73 L307.80 593.84 L308.80 593.93 L309.80 594.00 L310.80 594.06 L311.80 594.11 L312.80 594.15 L313.80 594.18 L314.80 594.21 L315.80 594.23 L316.80 594.24 L317.80 594.25 L318.80 594.26 L319.80 594.27 L320.80 594.28 L321.80 594.28 L322.80 594.29 L323.80 594.29 L324.80 594.29 L325.80 594.29 L326.80 594.30 L327.80 594.30 L328.80 594.30 L329.80 594.30 L330.80 594.30 L331.80 594.30 L332.80 594.30 L333.80 594.30 L334.80 594.30 L335.80 594.30 L336.80 594.30 L337.80 594.30 L338.80 594.30 L339.80 594.30 L340.80 594.30 L341.80 594.30 L342.80 594.30 L343.80 594.30 L344.80 594.30 L345.80 594.30 L346.80 594.30 L347.80 594.30 L348.80 594.30 L349.80 594.30 L350.80 594.30 L351.80 594.30" fill="none" stroke="#dde22a" stroke-width="3.0" stroke-linejoin="round"/>
<path d="M155.80 594.90 L156.80 594.90 L157.80 594.90 L158.80 594.90 L159.80 594.90 L160.80 594.90 L161.80 594.90 L162.80 594.90 L163.80 594.90 L164.80 594.90 L165.80 594.90 L166.80 594.90 L167.80 594.90 L168.80 594.90 L169.80 594.90 L170.80 594.90 L171.80 594.90 L172.80 594.90 L173.80 594.90 L174.80 594.90 L175.80 594.90 L176.80 594.90 L177.80 594.90 L178.80 594.90 L179.80 594.90 L180.80 594.90 L181.80 594.90 L182.80 594.90 L183.80 594.89 L184.80 594.89 L185.80 594.89 L186.80 594.88 L187.80 594.88 L188.80 594.87 L189.80 594.86 L190.80 594.85 L191.80 594.83 L192.80 594.80 L193.80 594.77 L194.80 594.73 L195.80 594.68 L196.80 594.61 L197.80 594.52 L198.80 594.42 L199.80 594.28 L200.80 594.11 L201.80 593.89 L202.80 593.63 L203.80 593.30 L204.80 592.90 L205.80 592.41 L206.80 591.81 L207.80 591.09 L208.80 590.23 L209.80 589.21 L210.80 587.99 L211.80 586.55 L212.80 584.87 L213.80 582.91 L214.80 580.64 L215.80 578.02 L216.80 575.02 L217.80 571.61 L218.80 567.74 L219.80 563.40 L220.80 558.55 L221.80 553.16 L222.80 547.21 L223.80 540.69 L224.80 533.58 L225.80 525.90 L226.80 517.64 L227.80 508.83 L228.80 499.50 L229.80 489.69 L230.80 479.45 L231.80 468.86 L232.80 457.98 L233.80 446.92 L234.80 435.77 L235.80 424.63 L236.80 413.64 L237.80 402.91 L238.80 392.56 L239.80 382.73 L240.80 373.55 L241.80 365.13 L242.80 357.59 L243.80 351.03 L244.80 345.55 L245.80 341.24 L246.80 338.15 L247.80 336.33 L248.80 335.81 L249.80 336.59 L250.80 338.67 L251.80 342.01 L252.80 346.56 L253.80 352.26 L254.80 359.02 L255.80 366.74 L256.80 375.33 L257.80 384.65 L258.80 394.59 L259.80 405.03 L260.80 415.82 L261.80 426.85 L262.80 438.00 L263.80 449.14 L264.80 460.18 L265.80 471.00 L266.80 481.53 L267.80 491.69 L268.80 501.41 L269.80 510.64 L270.80 519.34 L271.80 527.48 L272.80 535.05 L273.80 542.04 L274.80 548.44 L275.80 554.28 L276.80 559.56 L277.80 564.31 L278.80 568.55 L279.80 572.32 L280.80 575.65 L281.80 578.57 L282.80 581.12 L283.80 583.33 L284.80 585.23 L285.80 586.86 L286.80 588.25 L287.80 589.43 L288.80 590.42 L289.80 591.25 L290.80 591.94 L291.80 592.51 L292.80 592.98 L293.80 593.37 L294.80 593.68 L295.80 593.94 L296.80 594.14 L297.80 594.31 L298.80 594.44 L299.80 594.54 L300.80 594.63 L301.80 594.69 L302.80 594.74 L303.80 594.78 L304.80 594.81 L305.80 594.83 L306.80 594.85 L307.80 594.86 L308.80 594.87 L309.80 594.88 L310.80 594.88 L311.80 594.89 L312.80 594.89 L313.80 594.89 L314.80 594.90 L315.80 594.90 L316.80 594.90 L317.80 594.90 L318.80 594.90 L319.80 594.90 L320.80 594.90 L321.80 594.90 L322.80 594.90 L323.80 594.90 L324.80 594.90 L325.80 594.90 L326.80 594.90 L327.80 594.90 L328.80 594.90 L329.80 594.90 L330.80 594.90 L331.80 594.90 L332.80 594.90 L333.80 594.90 L334.80 594.90 L335.80 594.90 L336.80 594.90 L337.80 594.90 L338.80 594.90 L339.80 594.90 L340.80 594.90 L341.80 594.90 L342.80 594.90 L343.80 594.90 L344.80 594.90 L345.80 594.90 L346.80 594.90 L347.80 594.90 L348.80 594.90 L349.80 594.90 L350.80 594.90 L351.80 594.90" fill="none" stroke="#0f9243" stroke-width="3.0" stroke-linejoin="round"/>
<path d="M77.0 540.2 L91.1 534.4 L115.8 518.6 L137.0 499.2 L158.1 476.3 L175.7 455.1 L193.4 432.9 L211.0 410.4 L228.6 388.2 L246.2 367.0 L263.9 350.8 L284.7 337.8 L308.3 335.0 L331.8 341.1 L355.4 353.6 L380.4 371.6 L405.3 391.6 L435.6 415.6 L462.2 437.8 L480.0 451.0 L498.0 464.9 L515.9 478.4 L533.9 490.9 L551.8 502.3 L569.8 511.3 L587.8 518.8 L605.7 524.8 L623.7 529.8 L641.6 533.7 L652.1 536.1" fill="none" stroke="#10c1e3" stroke-width="3.0" stroke-linejoin="round"/>
<path d="M77.0 595.2 L166.6 595.2 L188.1 569.0 L253.0 335.6 L275.0 343.9 L295.8 356.4 L316.6 374.4 L333.2 389.6 L361.0 416.5 L388.7 442.3 L416.4 468.1 L428.6 480.3 L451.1 524.4 L472.0 563.6 L493.2 594.6 L602.0 595.2" fill="none" stroke="#0b68c2" stroke-width="3.0" stroke-linejoin="round"/>
<g font-family='"Liberation Sans", sans-serif' fill="#1a1a1a">
<text x="7.4" y="22.3" font-size="30.5" textLength="18.8" lengthAdjust="spacingAndGlyphs" stroke="#1a1a1a" stroke-width="0.45">A</text>
<text x="4.2" y="333.0" font-size="30.8" textLength="18" lengthAdjust="spacingAndGlyphs" stroke="#1a1a1a" stroke-width="0.45">B</text>
<text x="59.4" y="243.2" font-size="19.7" text-anchor="end">0.0</text>
<text x="59.4" y="203.5" font-size="19.7" text-anchor="end">0.2</text>
<text x="59.4" y="163.7" font-size="19.7" text-anchor="end">0.4</text>
<text x="59.4" y="124.0" font-size="19.7" text-anchor="end">0.6</text>
<text x="59.4" y="84.2" font-size="19.7" text-anchor="end">0.8</text>
<text x="59.4" y="44.5" font-size="19.7" text-anchor="end">1.0</text>
<text x="72.7" y="267.3" font-size="20.0" text-anchor="middle">5769</text>
<text x="220.3" y="267.3" font-size="20.0" text-anchor="middle">5770</text>
<text x="367.9" y="267.3" font-size="20.0" text-anchor="middle">5771</text>
<text x="515.5" y="267.3" font-size="20.0" text-anchor="middle">5772</text>
<text x="663.1" y="267.3" font-size="20.0" text-anchor="middle">5773</text>
<text x="376.4" y="294.7" font-size="19.8" font-style="italic" text-anchor="middle">m/z</text>
<text transform="translate(16.6 137.6) rotate(-90)" font-size="20.1" text-anchor="middle">Normalized Ion Count</text>
<text x="685.2" y="52.2" font-size="23.4" text-anchor="end" fill="#089d60" stroke="#089d60" stroke-width="0.3"><tspan font-size="23.4" dy="0.0">[Ave</tspan><tspan font-size="13.7" dy="6.4">1350</tspan><tspan font-size="23.4" dy="-6.4">+26H]</tspan><tspan font-size="13.4" dy="-7.7">26+</tspan></text>
<text x="685.2" y="81.5" font-size="23.4" text-anchor="end" fill="#fa961c" stroke="#fa961c" stroke-width="0.3"><tspan font-size="23.4" dy="0.0">[Ave</tspan><tspan font-size="13.7" dy="6.4">1350</tspan><tspan font-size="23.4" dy="-6.4">+25H+NH</tspan><tspan font-size="13.7" dy="6.4">4</tspan><tspan font-size="23.4" dy="-6.4">]</tspan><tspan font-size="13.4" dy="-7.7">26+</tspan></text>
<text x="685.2" y="110.3" font-size="23.4" text-anchor="end" fill="#f01a22" stroke="#f01a22" stroke-width="0.3"><tspan font-size="23.4" dy="0.0">[Ave</tspan><tspan font-size="13.7" dy="6.4">1350</tspan><tspan font-size="23.4" dy="-6.4">+25H+Na]</tspan><tspan font-size="13.4" dy="-7.7">26+</tspan></text>
<text x="686.0" y="139.3" font-size="23.4" text-anchor="end" fill="#0d0d0d" stroke="#0d0d0d" stroke-width="0.3">sum</text>
<text x="57" y="599.3" font-size="20.3" text-anchor="end">0.0</text>
<text x="57" y="547.5" font-size="20.3" text-anchor="end">0.2</text>
<text x="57" y="495.7" font-size="20.3" text-anchor="end">0.4</text>
<text x="57" y="443.8" font-size="20.3" text-anchor="end">0.6</text>
<text x="57" y="392.0" font-size="20.3" text-anchor="end">0.8</text>
<text x="57" y="340.2" font-size="20.3" text-anchor="end">1.0</text>
<text x="115.4" y="627.9" font-size="20.6" text-anchor="middle">11276</text>
<text x="269.4" y="627.9" font-size="20.6" text-anchor="middle">11280</text>
<text x="423.4" y="627.9" font-size="20.6" text-anchor="middle">11284</text>
<text x="577.4" y="627.9" font-size="20.6" text-anchor="middle">11288</text>
<text x="351.9" y="651.2" font-size="19.8" font-style="italic" text-anchor="middle">m/z</text>
<text transform="translate(16.4 466) rotate(-90)" font-size="20.1" text-anchor="middle">Normalized Ion Count</text>
<text x="684.6" y="340.5" font-size="20.5" text-anchor="end" fill="#0d0d0d" stroke="#0d0d0d" stroke-width="0.25">isotope distr. (14,100)</text>
<text x="684.6" y="362.8" font-size="20.5" text-anchor="end" fill="#0b68c2" stroke="#0b68c2" stroke-width="0.25">Orbitrap 5,000 (2,400)</text>
<text x="684.6" y="385.0" font-size="20.5" text-anchor="end" fill="#10c1e3" stroke="#10c1e3" stroke-width="0.25">QTOF 5,000 (1,300)</text>
<text x="684.6" y="407.2" font-size="20.5" text-anchor="end" fill="#0f9243" stroke="#0f9243" stroke-width="0.25">40,000 (13,100)</text>
<text x="684.6" y="429.5" font-size="20.5" text-anchor="end" fill="#dde22a" stroke="#dde22a" stroke-width="0.25">20,000 (11,100)</text>
<text x="684.6" y="451.8" font-size="20.5" text-anchor="end" fill="#fa9518" stroke="#fa9518" stroke-width="0.25">10,000 (7,700)</text>
<text x="684.6" y="474.0" font-size="20.5" text-anchor="end" fill="#f3131f" stroke="#f3131f" stroke-width="0.25">5,000 (4,500)</text>
</g>
</svg>
</body></html>
